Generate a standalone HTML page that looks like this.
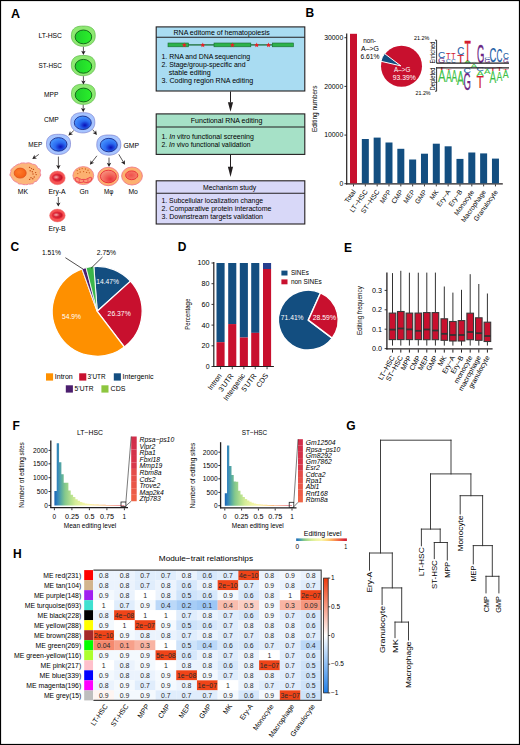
<!DOCTYPE html>
<html><head><meta charset="utf-8"><style>
html,body{margin:0;padding:0;background:#fff;}
svg{display:block;font-family:"Liberation Sans", sans-serif;}
</style></head><body>
<svg width="520" height="745" viewBox="0 0 520 745">
<defs>
<radialGradient id="gBlue" cx="0.62" cy="0.68" r="0.7">
<stop offset="0" stop-color="#0a10b8"/><stop offset="0.45" stop-color="#2a6af0"/><stop offset="1" stop-color="#4a98ff"/></radialGradient>
<linearGradient id="gGreen" x1="0" y1="0" x2="1" y2="0"><stop offset="0" stop-color="#1fcf2c"/><stop offset="1" stop-color="#2af02a"/></linearGradient>
<radialGradient id="gMphi" cx="0.62" cy="0.7" r="0.75"><stop offset="0" stop-color="#e8343c"/><stop offset="0.5" stop-color="#f26a5e"/><stop offset="1" stop-color="#f79582"/></radialGradient>
<radialGradient id="gMo" cx="0.45" cy="0.5" r="0.7"><stop offset="0" stop-color="#f0504c"/><stop offset="1" stop-color="#f58a70"/></radialGradient>
<radialGradient id="gEry" cx="0.35" cy="0.45" r="0.7"><stop offset="0" stop-color="#f4b0b0"/><stop offset="0.5" stop-color="#d82838"/><stop offset="1" stop-color="#b81020"/></radialGradient>
<radialGradient id="gMKn" cx="0.4" cy="0.4" r="0.7"><stop offset="0" stop-color="#ff7a2a"/><stop offset="1" stop-color="#f25a10"/></radialGradient>
<linearGradient id="gSpec" x1="0" y1="0" x2="1" y2="0">
<stop offset="0" stop-color="#2b7bba"/><stop offset="0.25" stop-color="#abdda4"/><stop offset="0.5" stop-color="#ffffbf"/><stop offset="0.75" stop-color="#fdae61"/><stop offset="1" stop-color="#d7191c"/></linearGradient>
<linearGradient id="gHeat" x1="0" y1="0" x2="0" y2="1">
<stop offset="0" stop-color="#ee3a0c"/><stop offset="0.5" stop-color="#ffffff"/><stop offset="1" stop-color="#1f7ee8"/></linearGradient>
</defs>
<rect x="0" y="0" width="520" height="745" fill="#fff"/>
<text x="11.00" y="17.70" font-size="12.5" fill="#000" font-weight="bold">A</text>
<text x="38.50" y="37.85" font-size="7.0" textLength="23.50" lengthAdjust="spacingAndGlyphs">LT-HSC</text>
<text x="38.50" y="67.85" font-size="7.0" textLength="23.50" lengthAdjust="spacingAndGlyphs">ST-HSC</text>
<text x="44.00" y="96.75" font-size="7.0" textLength="14.30" lengthAdjust="spacingAndGlyphs">MPP</text>
<text x="44.00" y="122.15" font-size="7.0" textLength="14.80" lengthAdjust="spacingAndGlyphs">CMP</text>
<text x="28.30" y="147.05" font-size="7.0" textLength="13.90" lengthAdjust="spacingAndGlyphs">MEP</text>
<text x="123.40" y="147.95" font-size="7.0" textLength="15.60" lengthAdjust="spacingAndGlyphs">GMP</text>
<text x="17.80" y="193.85" font-size="7.0" textLength="10.20" lengthAdjust="spacingAndGlyphs">MK</text>
<text x="48.50" y="193.85" font-size="7.0" textLength="17.20" lengthAdjust="spacingAndGlyphs">Ery-A</text>
<text x="79.40" y="193.85" font-size="7.0" textLength="9.10" lengthAdjust="spacingAndGlyphs">Gn</text>
<text x="103.90" y="193.85" font-size="7.0" textLength="9.40" lengthAdjust="spacingAndGlyphs">Mφ</text>
<text x="128.40" y="193.85" font-size="7.0" textLength="9.40" lengthAdjust="spacingAndGlyphs">Mo</text>
<text x="48.50" y="231.05" font-size="7.0" textLength="17.20" lengthAdjust="spacingAndGlyphs">Ery-B</text>
<polygon points="95.20,36.20 95.16,37.19 95.03,38.11 94.81,38.99 94.52,39.84 94.14,40.65 93.68,41.42 93.14,42.15 92.53,42.83 91.85,43.46 91.11,44.04 90.31,44.55 89.45,45.01 88.54,45.40 87.58,45.72 86.58,45.97 85.55,46.15 84.46,46.26 83.30,46.30 82.14,46.26 81.05,46.15 80.02,45.97 79.02,45.72 78.06,45.40 77.15,45.01 76.29,44.55 75.49,44.04 74.75,43.46 74.07,42.83 73.46,42.15 72.92,41.42 72.46,40.65 72.08,39.84 71.79,38.99 71.57,38.11 71.44,37.19 71.40,36.20 71.43,34.65 71.54,33.57 71.71,32.63 71.96,31.78 72.27,30.99 72.65,30.27 73.09,29.61 73.61,29.01 74.18,28.46 74.83,27.97 75.54,27.54 76.32,27.16 77.16,26.84 78.09,26.57 79.09,26.37 80.20,26.22 81.48,26.13 83.30,26.10 85.12,26.13 86.40,26.22 87.51,26.37 88.51,26.57 89.44,26.84 90.28,27.16 91.06,27.54 91.77,27.97 92.42,28.46 92.99,29.01 93.51,29.61 93.95,30.27 94.33,30.99 94.64,31.78 94.89,32.63 95.06,33.57 95.17,34.65" fill="#8ee872" stroke="#58b444" stroke-width="0.7" stroke-linejoin="round"/>
<ellipse cx="83.40" cy="36.90" rx="8.30" ry="6.90" fill="url(#gGreen)" stroke="#0f5f14" stroke-width="0.9"/>
<polygon points="95.20,65.60 95.16,66.59 95.03,67.51 94.81,68.39 94.52,69.24 94.14,70.05 93.68,70.82 93.14,71.55 92.53,72.23 91.85,72.86 91.11,73.44 90.31,73.95 89.45,74.41 88.54,74.80 87.58,75.12 86.58,75.37 85.55,75.55 84.46,75.66 83.30,75.70 82.14,75.66 81.05,75.55 80.02,75.37 79.02,75.12 78.06,74.80 77.15,74.41 76.29,73.95 75.49,73.44 74.75,72.86 74.07,72.23 73.46,71.55 72.92,70.82 72.46,70.05 72.08,69.24 71.79,68.39 71.57,67.51 71.44,66.59 71.40,65.60 71.43,64.05 71.54,62.97 71.71,62.03 71.96,61.18 72.27,60.39 72.65,59.67 73.09,59.01 73.61,58.41 74.18,57.86 74.83,57.37 75.54,56.94 76.32,56.56 77.16,56.24 78.09,55.97 79.09,55.77 80.20,55.62 81.48,55.53 83.30,55.50 85.12,55.53 86.40,55.62 87.51,55.77 88.51,55.97 89.44,56.24 90.28,56.56 91.06,56.94 91.77,57.37 92.42,57.86 92.99,58.41 93.51,59.01 93.95,59.67 94.33,60.39 94.64,61.18 94.89,62.03 95.06,62.97 95.17,64.05" fill="#8ee872" stroke="#58b444" stroke-width="0.7" stroke-linejoin="round"/>
<ellipse cx="83.40" cy="66.30" rx="8.30" ry="6.90" fill="url(#gGreen)" stroke="#0f5f14" stroke-width="0.9"/>
<polygon points="95.30,94.30 95.26,95.29 95.13,96.21 94.91,97.09 94.62,97.94 94.24,98.75 93.78,99.52 93.24,100.25 92.63,100.93 91.95,101.56 91.21,102.14 90.41,102.65 89.55,103.11 88.64,103.50 87.68,103.82 86.68,104.07 85.65,104.25 84.56,104.36 83.40,104.40 82.24,104.36 81.15,104.25 80.12,104.07 79.12,103.82 78.16,103.50 77.25,103.11 76.39,102.65 75.59,102.14 74.85,101.56 74.17,100.93 73.56,100.25 73.02,99.52 72.56,98.75 72.18,97.94 71.89,97.09 71.67,96.21 71.54,95.29 71.50,94.30 71.53,92.75 71.64,91.67 71.81,90.73 72.06,89.88 72.37,89.09 72.75,88.37 73.19,87.71 73.71,87.11 74.28,86.56 74.93,86.07 75.64,85.64 76.42,85.26 77.26,84.94 78.19,84.67 79.19,84.47 80.30,84.32 81.58,84.23 83.40,84.20 85.22,84.23 86.50,84.32 87.61,84.47 88.61,84.67 89.54,84.94 90.38,85.26 91.16,85.64 91.87,86.07 92.52,86.56 93.09,87.11 93.61,87.71 94.05,88.37 94.43,89.09 94.74,89.88 94.99,90.73 95.16,91.67 95.27,92.75" fill="#8ee872" stroke="#58b444" stroke-width="0.7" stroke-linejoin="round"/>
<ellipse cx="83.50" cy="95.00" rx="8.30" ry="6.90" fill="url(#gGreen)" stroke="#0f5f14" stroke-width="0.9"/>
<polygon points="94.80,122.80 94.76,123.79 94.63,124.71 94.41,125.59 94.11,126.44 93.73,127.25 93.26,128.02 92.72,128.75 92.11,129.43 91.43,130.06 90.68,130.64 89.87,131.15 89.00,131.61 88.08,132.00 87.12,132.32 86.11,132.57 85.06,132.75 83.97,132.86 82.80,132.90 81.63,132.86 80.54,132.75 79.49,132.57 78.48,132.32 77.52,132.00 76.60,131.61 75.73,131.15 74.92,130.64 74.17,130.06 73.49,129.43 72.88,128.75 72.34,128.02 71.87,127.25 71.49,126.44 71.19,125.59 70.97,124.71 70.84,123.79 70.80,122.80 70.84,121.25 70.94,120.17 71.12,119.23 71.36,118.38 71.67,117.59 72.06,116.87 72.51,116.21 73.02,115.61 73.61,115.06 74.26,114.57 74.98,114.14 75.76,113.76 76.61,113.44 77.54,113.17 78.56,112.97 79.68,112.82 80.96,112.73 82.80,112.70 84.64,112.73 85.92,112.82 87.04,112.97 88.06,113.17 88.99,113.44 89.84,113.76 90.62,114.14 91.34,114.57 91.99,115.06 92.58,115.61 93.09,116.21 93.54,116.87 93.93,117.59 94.24,118.38 94.48,119.23 94.66,120.17 94.76,121.25" fill="#a6c4ff" stroke="#7b7fcf" stroke-width="0.7" stroke-linejoin="round"/>
<ellipse cx="82.80" cy="122.80" rx="8.50" ry="6.75" fill="url(#gBlue)" stroke="#1a2a8a" stroke-width="0.9"/>
<polygon points="70.50,144.40 70.46,145.39 70.33,146.31 70.11,147.19 69.81,148.04 69.43,148.85 68.96,149.62 68.42,150.35 67.81,151.03 67.13,151.66 66.38,152.24 65.57,152.75 64.70,153.21 63.78,153.60 62.82,153.92 61.81,154.17 60.76,154.35 59.67,154.46 58.50,154.50 57.33,154.46 56.24,154.35 55.19,154.17 54.18,153.92 53.22,153.60 52.30,153.21 51.43,152.75 50.62,152.24 49.87,151.66 49.19,151.03 48.58,150.35 48.04,149.62 47.57,148.85 47.19,148.04 46.89,147.19 46.67,146.31 46.54,145.39 46.50,144.40 46.54,142.85 46.64,141.77 46.82,140.83 47.06,139.98 47.37,139.19 47.76,138.47 48.21,137.81 48.72,137.21 49.31,136.66 49.96,136.17 50.68,135.74 51.46,135.36 52.31,135.04 53.24,134.77 54.26,134.57 55.38,134.42 56.66,134.33 58.50,134.30 60.34,134.33 61.62,134.42 62.74,134.57 63.76,134.77 64.69,135.04 65.54,135.36 66.32,135.74 67.04,136.17 67.69,136.66 68.28,137.21 68.79,137.81 69.24,138.47 69.63,139.19 69.94,139.98 70.18,140.83 70.36,141.77 70.46,142.85" fill="#a6c4ff" stroke="#7b7fcf" stroke-width="0.7" stroke-linejoin="round"/>
<ellipse cx="58.50" cy="144.40" rx="8.50" ry="6.75" fill="url(#gBlue)" stroke="#1a2a8a" stroke-width="0.9"/>
<polygon points="120.80,145.10 120.76,146.09 120.63,147.01 120.41,147.89 120.11,148.74 119.73,149.55 119.26,150.32 118.72,151.05 118.11,151.73 117.43,152.36 116.68,152.94 115.87,153.45 115.00,153.91 114.08,154.30 113.12,154.62 112.11,154.87 111.06,155.05 109.97,155.16 108.80,155.20 107.63,155.16 106.54,155.05 105.49,154.87 104.48,154.62 103.52,154.30 102.60,153.91 101.73,153.45 100.92,152.94 100.17,152.36 99.49,151.73 98.88,151.05 98.34,150.32 97.87,149.55 97.49,148.74 97.19,147.89 96.97,147.01 96.84,146.09 96.80,145.10 96.84,143.55 96.94,142.47 97.12,141.53 97.36,140.68 97.67,139.89 98.06,139.17 98.51,138.51 99.02,137.91 99.61,137.36 100.26,136.87 100.98,136.44 101.76,136.06 102.61,135.74 103.54,135.47 104.56,135.27 105.68,135.12 106.96,135.03 108.80,135.00 110.64,135.03 111.92,135.12 113.04,135.27 114.06,135.47 114.99,135.74 115.84,136.06 116.62,136.44 117.34,136.87 117.99,137.36 118.58,137.91 119.09,138.51 119.54,139.17 119.93,139.89 120.24,140.68 120.48,141.53 120.66,142.47 120.76,143.55" fill="#a6c4ff" stroke="#7b7fcf" stroke-width="0.7" stroke-linejoin="round"/>
<ellipse cx="108.80" cy="145.10" rx="8.50" ry="6.75" fill="url(#gBlue)" stroke="#1a2a8a" stroke-width="0.9"/>
<line x1="83.40" y1="46.80" x2="83.40" y2="52.10" stroke="#231f20" stroke-width="0.75"/>
<polygon points="83.40,55.00 81.20,50.80 83.40,51.80 85.60,50.80" fill="#231f20"/>
<line x1="83.40" y1="76.20" x2="83.40" y2="81.70" stroke="#231f20" stroke-width="0.75"/>
<polygon points="83.40,84.60 81.20,80.40 83.40,81.40 85.60,80.40" fill="#231f20"/>
<line x1="83.20" y1="104.80" x2="83.20" y2="109.30" stroke="#231f20" stroke-width="0.75"/>
<polygon points="83.20,112.20 81.00,108.00 83.20,109.00 85.40,108.00" fill="#231f20"/>
<line x1="73.80" y1="130.60" x2="70.55" y2="133.55" stroke="#231f20" stroke-width="0.75"/>
<polygon points="68.40,135.50 70.03,131.05 70.77,133.35 72.99,134.31" fill="#231f20"/>
<line x1="92.70" y1="129.60" x2="95.12" y2="132.71" stroke="#231f20" stroke-width="0.75"/>
<polygon points="96.90,135.00 92.58,133.04 94.94,132.47 96.06,130.33" fill="#231f20"/>
<line x1="38.80" y1="154.40" x2="34.65" y2="157.40" stroke="#231f20" stroke-width="0.75"/>
<polygon points="32.30,159.10 34.41,154.86 34.89,157.22 36.99,158.42" fill="#231f20"/>
<line x1="58.40" y1="156.60" x2="58.40" y2="166.30" stroke="#231f20" stroke-width="0.75"/>
<polygon points="58.40,169.20 56.20,165.00 58.40,166.00 60.60,165.00" fill="#231f20"/>
<line x1="96.90" y1="155.80" x2="91.68" y2="162.51" stroke="#231f20" stroke-width="0.75"/>
<polygon points="89.90,164.80 90.74,160.13 91.86,162.27 94.22,162.84" fill="#231f20"/>
<line x1="109.00" y1="157.60" x2="109.00" y2="164.10" stroke="#231f20" stroke-width="0.75"/>
<polygon points="109.00,167.00 106.80,162.80 109.00,163.80 111.20,162.80" fill="#231f20"/>
<line x1="118.80" y1="154.40" x2="123.52" y2="162.31" stroke="#231f20" stroke-width="0.75"/>
<polygon points="125.00,164.80 120.96,162.32 123.36,162.05 124.74,160.07" fill="#231f20"/>
<line x1="58.30" y1="197.00" x2="58.30" y2="203.70" stroke="#231f20" stroke-width="0.75"/>
<polygon points="58.30,206.60 56.10,202.40 58.30,203.40 60.50,202.40" fill="#231f20"/>
<path d="M40.31,173.70 L40.84,174.94 L40.21,176.10 L39.53,177.20 L38.96,178.30 L38.16,179.31 L37.36,180.31 L36.58,181.35 L34.85,181.67 L33.80,182.46 L33.07,183.75 L31.41,183.88 L29.93,184.15 L28.38,184.09 L27.00,184.66 L25.50,184.61 L24.00,184.66 L22.55,184.35 L21.16,183.95 L19.50,184.05 L18.08,183.56 L17.29,182.37 L15.85,181.92 L14.59,181.24 L13.44,180.42 L12.86,179.30 L11.85,178.36 L11.58,177.17 L10.49,176.15 L9.87,174.96 L10.27,173.70 L10.54,172.49 L11.06,171.35 L10.75,170.02 L11.69,168.98 L12.49,167.94 L13.59,167.06 L14.85,166.34 L15.73,165.38 L17.08,164.81 L18.26,164.09 L19.80,163.88 L21.00,163.07 L22.51,162.93 L24.03,162.94 L25.50,163.19 L26.96,163.05 L28.54,162.74 L29.99,163.10 L31.36,163.60 L32.61,164.25 L34.29,164.42 L35.69,165.02 L36.73,165.94 L37.26,167.14 L37.92,168.20 L39.64,168.87 L40.39,169.99 L40.37,171.27 L40.15,172.52Z" fill="#fcb67a" stroke="#ee7f96" stroke-width="0.9" stroke-linejoin="round"/>
<ellipse cx="20.20" cy="173.10" rx="6.00" ry="5.00" fill="url(#gMKn)" stroke="#e0501a" stroke-width="0.8"/>
<ellipse cx="29.60" cy="167.40" rx="0.70" ry="0.70" fill="#c44a14"/>
<ellipse cx="31.50" cy="168.60" rx="0.70" ry="0.70" fill="#c44a14"/>
<ellipse cx="33.40" cy="169.40" rx="0.70" ry="0.70" fill="#c44a14"/>
<ellipse cx="30.20" cy="170.80" rx="0.70" ry="0.70" fill="#c44a14"/>
<ellipse cx="32.30" cy="171.80" rx="0.70" ry="0.70" fill="#c44a14"/>
<ellipse cx="35.60" cy="172.60" rx="0.70" ry="0.70" fill="#c44a14"/>
<ellipse cx="36.20" cy="174.60" rx="0.70" ry="0.70" fill="#c44a14"/>
<ellipse cx="33.00" cy="174.00" rx="0.70" ry="0.70" fill="#c44a14"/>
<ellipse cx="31.00" cy="177.80" rx="0.70" ry="0.70" fill="#c44a14"/>
<ellipse cx="32.80" cy="178.80" rx="0.70" ry="0.70" fill="#c44a14"/>
<ellipse cx="29.60" cy="179.40" rx="0.70" ry="0.70" fill="#c44a14"/>
<ellipse cx="34.20" cy="177.00" rx="0.70" ry="0.70" fill="#c44a14"/>
<ellipse cx="57.40" cy="177.90" rx="7.80" ry="6.80" fill="#f45454" stroke="#f07070" stroke-width="0.5"/>
<ellipse cx="57.50" cy="177.60" rx="5.60" ry="4.20" fill="#e82a3a"/>
<ellipse cx="57.60" cy="177.50" rx="4.60" ry="3.10" fill="url(#gEry)"/>
<ellipse cx="57.40" cy="215.50" rx="7.80" ry="6.40" fill="#f45454" stroke="#f07070" stroke-width="0.5"/>
<ellipse cx="57.50" cy="215.20" rx="5.60" ry="3.80" fill="#e82a3a"/>
<ellipse cx="57.60" cy="215.10" rx="4.60" ry="2.70" fill="url(#gEry)"/>
<ellipse cx="83.30" cy="175.60" rx="10.40" ry="9.00" fill="#fcb070" stroke="#ef7a8a" stroke-width="0.8"/>
<path d="M74.8,178.4 Q76.8,176.4 79.4,178.6 Q81.6,180.0 83.6,179.4 Q85.8,180.0 88.0,178.4 Q90.4,176.2 92.0,178.2 Q91.6,181.8 88.2,182.4 Q85.8,182.8 83.6,182.0 Q81.2,182.8 79.0,182.4 Q75.4,182.2 74.8,178.4Z" fill="#fb9a78" stroke="#ea2d44" stroke-width="0.8"/>
<path d="M79.2,178.8 Q79.6,181 79.0,182.4 M88.0,178.6 Q87.6,181 88.2,182.4 M83.6,179.4 L83.6,182.0" fill="none" stroke="#ea2d44" stroke-width="0.6"/>
<ellipse cx="77.20" cy="170.60" rx="0.65" ry="0.65" fill="#d0601e"/>
<ellipse cx="79.60" cy="169.20" rx="0.65" ry="0.65" fill="#d0601e"/>
<ellipse cx="82.20" cy="168.60" rx="0.65" ry="0.65" fill="#d0601e"/>
<ellipse cx="85.40" cy="169.00" rx="0.65" ry="0.65" fill="#d0601e"/>
<ellipse cx="88.00" cy="170.20" rx="0.65" ry="0.65" fill="#d0601e"/>
<ellipse cx="80.20" cy="172.00" rx="0.65" ry="0.65" fill="#d0601e"/>
<ellipse cx="83.60" cy="171.60" rx="0.65" ry="0.65" fill="#d0601e"/>
<ellipse cx="86.60" cy="172.40" rx="0.65" ry="0.65" fill="#d0601e"/>
<ellipse cx="89.40" cy="172.80" rx="0.65" ry="0.65" fill="#d0601e"/>
<ellipse cx="77.80" cy="173.60" rx="0.65" ry="0.65" fill="#d0601e"/>
<ellipse cx="108.20" cy="176.50" rx="10.50" ry="9.20" fill="#fcb070" stroke="#ef6f80" stroke-width="0.8"/>
<ellipse cx="108.40" cy="176.50" rx="8.00" ry="6.30" fill="url(#gMphi)" stroke="#e8202e" stroke-width="0.8"/>
<ellipse cx="132.00" cy="176.00" rx="10.40" ry="9.00" fill="#fcb070" stroke="#ef6f80" stroke-width="0.8"/>
<ellipse cx="131.70" cy="175.30" rx="6.10" ry="4.40" fill="url(#gMo)" stroke="#e8202e" stroke-width="0.8"/>
<rect x="156.20" y="26.90" width="148.60" height="64.10" fill="#a9dcf2" stroke="#231f20" stroke-width="1.1"/>
<line x1="156.20" y1="37.30" x2="304.80" y2="37.30" stroke="#231f20" stroke-width="1.1"/>
<rect x="156.20" y="113.90" width="148.60" height="40.50" fill="#a6e1c7" stroke="#231f20" stroke-width="1.1"/>
<line x1="156.20" y1="127.00" x2="304.80" y2="127.00" stroke="#231f20" stroke-width="1.1"/>
<rect x="156.20" y="180.80" width="148.60" height="43.20" fill="#d8d8f8" stroke="#231f20" stroke-width="1.1"/>
<line x1="156.20" y1="193.30" x2="304.80" y2="193.30" stroke="#231f20" stroke-width="1.1"/>
<line x1="230.50" y1="91.50" x2="230.50" y2="102.50" stroke="#231f20" stroke-width="1.0"/>
<polygon points="230.50,111.80 227.90,102.20 230.50,102.20 233.10,102.20" fill="#231f20"/>
<line x1="230.50" y1="154.90" x2="230.50" y2="167.00" stroke="#231f20" stroke-width="1.0"/>
<polygon points="230.50,176.90 227.90,166.70 230.50,166.70 233.10,166.70" fill="#231f20"/>
<text x="173.50" y="34.68" font-size="6.8" textLength="96.30" lengthAdjust="spacingAndGlyphs">RNA editome of hematopoiesis</text>
<text x="161.50" y="59.18" font-size="6.8" textLength="88.60" lengthAdjust="spacingAndGlyphs">1. RNA and DNA sequencing</text>
<text x="161.50" y="66.98" font-size="6.8" textLength="84.00" lengthAdjust="spacingAndGlyphs">2. Stage/group-specific and</text>
<text x="168.80" y="74.88" font-size="6.8" textLength="42.00" lengthAdjust="spacingAndGlyphs">stable editing</text>
<text x="161.50" y="83.18" font-size="6.8" textLength="91.60" lengthAdjust="spacingAndGlyphs">3. Coding region RNA editing</text>
<text x="190.80" y="123.18" font-size="6.8" textLength="71.50" lengthAdjust="spacingAndGlyphs">Functional RNA editing</text>
<text x="161.50" y="139.28" font-size="6.8" textLength="92.30" lengthAdjust="spacingAndGlyphs">1. <tspan font-style="italic">In</tspan> vitro functional screening</text>
<text x="161.50" y="147.38" font-size="6.8" textLength="89.00" lengthAdjust="spacingAndGlyphs">2. <tspan font-style="italic">In</tspan> vivo functional validation</text>
<text x="203.00" y="189.98" font-size="6.8" textLength="53.10" lengthAdjust="spacingAndGlyphs">Mechanism study</text>
<text x="161.50" y="202.68" font-size="6.8" textLength="101.50" lengthAdjust="spacingAndGlyphs">1. Subcellular localization change</text>
<text x="161.50" y="210.58" font-size="6.8" textLength="110.00" lengthAdjust="spacingAndGlyphs">2. Comparative protein interactome</text>
<text x="161.50" y="218.88" font-size="6.8" textLength="101.50" lengthAdjust="spacingAndGlyphs">3. Downstream targets validation</text>
<line x1="188.00" y1="44.90" x2="214.50" y2="44.90" stroke="#1b6e34" stroke-width="1.3"/>
<line x1="250.50" y1="44.90" x2="272.60" y2="44.90" stroke="#1b6e34" stroke-width="1.3"/>
<rect x="168.00" y="43.00" width="20.40" height="3.80" fill="#2db24b" stroke="#17692f" stroke-width="0.6"/>
<rect x="214.00" y="43.00" width="36.80" height="3.80" fill="#2db24b" stroke="#17692f" stroke-width="0.6"/>
<rect x="272.30" y="43.00" width="21.10" height="3.80" fill="#2db24b" stroke="#17692f" stroke-width="0.6"/>
<polygon points="184.30,42.50 184.99,44.15 186.77,44.30 185.41,45.46 185.83,47.20 184.30,46.27 182.77,47.20 183.19,45.46 181.83,44.30 183.61,44.15" fill="#ee1c25"/>
<polygon points="202.80,42.50 203.49,44.15 205.27,44.30 203.91,45.46 204.33,47.20 202.80,46.27 201.27,47.20 201.69,45.46 200.33,44.30 202.11,44.15" fill="#ee1c25"/>
<polygon points="232.40,42.50 233.09,44.15 234.87,44.30 233.51,45.46 233.93,47.20 232.40,46.27 230.87,47.20 231.29,45.46 229.93,44.30 231.71,44.15" fill="#ee1c25"/>
<polygon points="256.70,42.50 257.39,44.15 259.17,44.30 257.81,45.46 258.23,47.20 256.70,46.27 255.17,47.20 255.59,45.46 254.23,44.30 256.01,44.15" fill="#ee1c25"/>
<polygon points="268.50,42.50 269.19,44.15 270.97,44.30 269.61,45.46 270.03,47.20 268.50,46.27 266.97,47.20 267.39,45.46 266.03,44.30 267.81,44.15" fill="#ee1c25"/>
<text x="305.60" y="17.40" font-size="12.0" fill="#000" font-weight="bold">B</text>
<line x1="346.70" y1="33.60" x2="346.70" y2="184.40" stroke="#231f20" stroke-width="1.2"/>
<line x1="346.10" y1="183.90" x2="502.80" y2="183.90" stroke="#231f20" stroke-width="1.2"/>
<line x1="344.40" y1="37.70" x2="346.70" y2="37.70" stroke="#231f20" stroke-width="0.9"/>
<text x="343.20" y="40.08" font-size="6.8" text-anchor="end" textLength="19.00" lengthAdjust="spacingAndGlyphs">30000</text>
<line x1="344.40" y1="86.40" x2="346.70" y2="86.40" stroke="#231f20" stroke-width="0.9"/>
<text x="343.20" y="88.78" font-size="6.8" text-anchor="end" textLength="19.00" lengthAdjust="spacingAndGlyphs">20000</text>
<line x1="344.40" y1="135.10" x2="346.70" y2="135.10" stroke="#231f20" stroke-width="0.9"/>
<text x="343.20" y="137.48" font-size="6.8" text-anchor="end" textLength="19.00" lengthAdjust="spacingAndGlyphs">10000</text>
<line x1="344.40" y1="183.70" x2="346.70" y2="183.70" stroke="#231f20" stroke-width="0.9"/>
<text x="343.20" y="186.08" font-size="6.8" text-anchor="end" textLength="3.80" lengthAdjust="spacingAndGlyphs">0</text>
<text transform="translate(314.20 108.80) rotate(-90)" font-size="6.8" text-anchor="middle" dominant-baseline="central" textLength="46.50" lengthAdjust="spacingAndGlyphs">Editing numbers</text>
<rect x="350.00" y="33.80" width="7.00" height="149.50" fill="#c8102e"/>
<line x1="353.50" y1="184.40" x2="353.50" y2="186.40" stroke="#231f20" stroke-width="0.9"/>
<text transform="translate(354.10 190.40) rotate(-55)" font-size="6.8" text-anchor="end" dominant-baseline="central">Total</text>
<rect x="361.83" y="139.00" width="7.00" height="44.30" fill="#134e80"/>
<line x1="365.33" y1="184.40" x2="365.33" y2="186.40" stroke="#231f20" stroke-width="0.9"/>
<text transform="translate(365.93 190.40) rotate(-55)" font-size="6.8" text-anchor="end" dominant-baseline="central">LT−HSC</text>
<rect x="373.66" y="137.60" width="7.00" height="45.70" fill="#134e80"/>
<line x1="377.16" y1="184.40" x2="377.16" y2="186.40" stroke="#231f20" stroke-width="0.9"/>
<text transform="translate(377.76 190.40) rotate(-55)" font-size="6.8" text-anchor="end" dominant-baseline="central">ST−HSC</text>
<rect x="385.49" y="142.50" width="7.00" height="40.80" fill="#134e80"/>
<line x1="388.99" y1="184.40" x2="388.99" y2="186.40" stroke="#231f20" stroke-width="0.9"/>
<text transform="translate(389.59 190.40) rotate(-55)" font-size="6.8" text-anchor="end" dominant-baseline="central">MPP</text>
<rect x="397.32" y="148.80" width="7.00" height="34.50" fill="#134e80"/>
<line x1="400.82" y1="184.40" x2="400.82" y2="186.40" stroke="#231f20" stroke-width="0.9"/>
<text transform="translate(401.42 190.40) rotate(-55)" font-size="6.8" text-anchor="end" dominant-baseline="central">CMP</text>
<rect x="409.15" y="159.50" width="7.00" height="23.80" fill="#134e80"/>
<line x1="412.65" y1="184.40" x2="412.65" y2="186.40" stroke="#231f20" stroke-width="0.9"/>
<text transform="translate(413.25 190.40) rotate(-55)" font-size="6.8" text-anchor="end" dominant-baseline="central">MEP</text>
<rect x="420.98" y="153.70" width="7.00" height="29.60" fill="#134e80"/>
<line x1="424.48" y1="184.40" x2="424.48" y2="186.40" stroke="#231f20" stroke-width="0.9"/>
<text transform="translate(425.08 190.40) rotate(-55)" font-size="6.8" text-anchor="end" dominant-baseline="central">GMP</text>
<rect x="432.81" y="143.70" width="7.00" height="39.60" fill="#134e80"/>
<line x1="436.31" y1="184.40" x2="436.31" y2="186.40" stroke="#231f20" stroke-width="0.9"/>
<text transform="translate(436.91 190.40) rotate(-55)" font-size="6.8" text-anchor="end" dominant-baseline="central">MK</text>
<rect x="444.64" y="146.30" width="7.00" height="37.00" fill="#134e80"/>
<line x1="448.14" y1="184.40" x2="448.14" y2="186.40" stroke="#231f20" stroke-width="0.9"/>
<text transform="translate(448.74 190.40) rotate(-55)" font-size="6.8" text-anchor="end" dominant-baseline="central">Ery−A</text>
<rect x="456.47" y="158.90" width="7.00" height="24.40" fill="#134e80"/>
<line x1="459.97" y1="184.40" x2="459.97" y2="186.40" stroke="#231f20" stroke-width="0.9"/>
<text transform="translate(460.57 190.40) rotate(-55)" font-size="6.8" text-anchor="end" dominant-baseline="central">Ery−B</text>
<rect x="468.30" y="152.50" width="7.00" height="30.80" fill="#134e80"/>
<line x1="471.80" y1="184.40" x2="471.80" y2="186.40" stroke="#231f20" stroke-width="0.9"/>
<text transform="translate(472.40 190.40) rotate(-55)" font-size="6.8" text-anchor="end" dominant-baseline="central">Monocyte</text>
<rect x="480.13" y="153.40" width="7.00" height="29.90" fill="#134e80"/>
<line x1="483.63" y1="184.40" x2="483.63" y2="186.40" stroke="#231f20" stroke-width="0.9"/>
<text transform="translate(484.23 190.40) rotate(-55)" font-size="6.8" text-anchor="end" dominant-baseline="central">Macrophage</text>
<rect x="491.96" y="158.60" width="7.00" height="24.70" fill="#134e80"/>
<line x1="495.46" y1="184.40" x2="495.46" y2="186.40" stroke="#231f20" stroke-width="0.9"/>
<text transform="translate(496.06 190.40) rotate(-55)" font-size="6.8" text-anchor="end" dominant-baseline="central">Granulocyte</text>
<circle cx="401.5" cy="66.2" r="20.5" fill="#c8102e"/>
<path d="M400.90,65.90 L380.93,61.29 A20.50,20.50 0 0 1 384.53,53.56 Z" fill="#134e80" stroke="#fff" stroke-width="1.0" stroke-linejoin="round"/>
<text x="369.60" y="42.64" font-size="6.4" text-anchor="middle">non-</text>
<text x="370.00" y="51.14" font-size="6.4" text-anchor="middle" textLength="18.00" lengthAdjust="spacingAndGlyphs">A–&gt;G</text>
<text x="370.00" y="59.34" font-size="6.4" text-anchor="middle" textLength="19.00" lengthAdjust="spacingAndGlyphs">6.61%</text>
<text x="402.20" y="72.18" font-size="6.8" text-anchor="middle" fill="#fff" textLength="16.40" lengthAdjust="spacingAndGlyphs">A–&gt;G</text>
<text x="404.30" y="79.78" font-size="6.8" text-anchor="middle" fill="#fff" textLength="22.90" lengthAdjust="spacingAndGlyphs">93.39%</text>
<text x="429.20" y="40.36" font-size="5.9" text-anchor="end" textLength="15.30" lengthAdjust="spacingAndGlyphs">21.2%</text>
<text x="430.60" y="95.36" font-size="5.9" text-anchor="end" textLength="15.10" lengthAdjust="spacingAndGlyphs">21.2%</text>
<text transform="translate(432.00 52.60) rotate(-90)" font-size="6.3" text-anchor="middle" dominant-baseline="central" textLength="21.60" lengthAdjust="spacingAndGlyphs">Enriched</text>
<text transform="translate(432.00 79.00) rotate(-90)" font-size="6.3" text-anchor="middle" dominant-baseline="central" textLength="22.60" lengthAdjust="spacingAndGlyphs">Depleted</text>
<line x1="436.60" y1="40.20" x2="436.60" y2="63.20" stroke="#231f20" stroke-width="0.9"/>
<line x1="436.60" y1="67.00" x2="436.60" y2="91.20" stroke="#231f20" stroke-width="0.9"/>
<line x1="435.00" y1="40.20" x2="436.60" y2="40.20" stroke="#231f20" stroke-width="0.9"/>
<line x1="435.00" y1="91.20" x2="436.60" y2="91.20" stroke="#231f20" stroke-width="0.9"/>
<text transform="translate(438.00 62.70) scale(0.925 0.694)" font-size="10.0" fill="#6a2584" stroke="#6a2584" stroke-width="0.12">G</text>
<text transform="translate(438.00 57.70) scale(1.000 0.958)" font-size="10.0" fill="#1c5ea6" stroke="#1c5ea6" stroke-width="0.12">C</text>
<text transform="translate(446.00 62.70) scale(0.649 0.583)" font-size="10.0" fill="#1c5ea6" stroke="#1c5ea6" stroke-width="0.12">C</text>
<text transform="translate(446.00 58.50) scale(0.750 0.972)" font-size="10.0" fill="#d21c2e" stroke="#d21c2e" stroke-width="0.12">T</text>
<text transform="translate(451.30 62.80) scale(0.608 0.500)" font-size="10.0" fill="#1c5ea6" stroke="#1c5ea6" stroke-width="0.12">C</text>
<text transform="translate(451.30 59.20) scale(0.703 0.861)" font-size="10.0" fill="#d21c2e" stroke="#d21c2e" stroke-width="0.12">T</text>
<text transform="translate(457.20 62.70) scale(1.125 1.125)" font-size="10.0" fill="#d21c2e" stroke="#d21c2e" stroke-width="0.12">T</text>
<text transform="translate(457.20 54.60) scale(0.973 1.167)" font-size="10.0" fill="#1c5ea6" stroke="#1c5ea6" stroke-width="0.12">C</text>
<text transform="translate(464.40 62.90) scale(0.943 0.264)" font-size="10.0" fill="#3cbf46" stroke="#3cbf46" stroke-width="0.12">A</text>
<text transform="translate(464.40 61.00) scale(1.031 2.889)" font-size="10.0" fill="#d21c2e" stroke="#d21c2e" stroke-width="0.12">T</text>
<text transform="translate(471.50 62.90) scale(0.786 0.153)" font-size="10.0" fill="#3cbf46" stroke="#3cbf46" stroke-width="0.12">A</text>
<text transform="translate(477.00 62.70) scale(0.950 2.569)" font-size="10.0" fill="#6a2584" stroke="#6a2584" stroke-width="0.12">G</text>
<text transform="translate(484.60 62.80) scale(0.750 0.458)" font-size="10.0" fill="#6a2584" stroke="#6a2584" stroke-width="0.12">G</text>
<text transform="translate(484.60 59.50) scale(0.811 0.264)" font-size="10.0" fill="#1c5ea6" stroke="#1c5ea6" stroke-width="0.12">C</text>
<text transform="translate(489.40 62.40) scale(0.946 1.972)" font-size="10.0" fill="#1c5ea6" stroke="#1c5ea6" stroke-width="0.12">C</text>
<text transform="translate(496.40 62.40) scale(0.811 1.833)" font-size="10.0" fill="#1c5ea6" stroke="#1c5ea6" stroke-width="0.12">C</text>
<text transform="translate(503.00 63.00) scale(0.750 0.500)" font-size="10.0" fill="#6a2584" stroke="#6a2584" stroke-width="0.12">G</text>
<text transform="translate(503.00 59.40) scale(0.811 0.889)" font-size="10.0" fill="#1c5ea6" stroke="#1c5ea6" stroke-width="0.12">C</text>
<text transform="translate(438.00 69.80) scale(1.250 0.264)" font-size="10.0" fill="#d21c2e" stroke="#d21c2e" stroke-width="0.12">T</text>
<text transform="translate(438.00 81.50) scale(1.143 1.597)" font-size="10.0" fill="#3cbf46" stroke="#3cbf46" stroke-width="0.12">A</text>
<text transform="translate(446.00 69.60) scale(0.938 0.236)" font-size="10.0" fill="#d21c2e" stroke="#d21c2e" stroke-width="0.12">T</text>
<text transform="translate(446.00 81.50) scale(0.857 1.597)" font-size="10.0" fill="#3cbf46" stroke="#3cbf46" stroke-width="0.12">A</text>
<text transform="translate(451.50 81.50) scale(0.857 1.597)" font-size="10.0" fill="#3cbf46" stroke="#3cbf46" stroke-width="0.12">A</text>
<text transform="translate(457.00 85.00) scale(1.057 1.972)" font-size="10.0" fill="#3cbf46" stroke="#3cbf46" stroke-width="0.12">A</text>
<text transform="translate(463.60 73.40) scale(1.027 0.750)" font-size="10.0" fill="#1c5ea6" stroke="#1c5ea6" stroke-width="0.12">C</text>
<text transform="translate(463.60 90.00) scale(0.950 2.306)" font-size="10.0" fill="#6a2584" stroke="#6a2584" stroke-width="0.12">G</text>
<text transform="translate(484.00 68.60) scale(0.919 0.083)" font-size="10.0" fill="#1c5ea6" stroke="#1c5ea6" stroke-width="0.12">C</text>
<text transform="translate(484.00 73.80) scale(0.971 0.722)" font-size="10.0" fill="#3cbf46" stroke="#3cbf46" stroke-width="0.12">A</text>
<text transform="translate(476.40 71.20) scale(1.027 0.444)" font-size="10.0" fill="#1c5ea6" stroke="#1c5ea6" stroke-width="0.12">C</text>
<text transform="translate(476.40 76.00) scale(1.086 0.639)" font-size="10.0" fill="#3cbf46" stroke="#3cbf46" stroke-width="0.12">A</text>
<text transform="translate(476.40 87.70) scale(1.188 1.625)" font-size="10.0" fill="#d21c2e" stroke="#d21c2e" stroke-width="0.12">T</text>
<text transform="translate(489.40 70.60) scale(1.094 0.361)" font-size="10.0" fill="#d21c2e" stroke="#d21c2e" stroke-width="0.12">T</text>
<text transform="translate(489.40 83.00) scale(1.000 1.694)" font-size="10.0" fill="#3cbf46" stroke="#3cbf46" stroke-width="0.12">A</text>
<text transform="translate(496.40 71.20) scale(0.969 0.444)" font-size="10.0" fill="#d21c2e" stroke="#d21c2e" stroke-width="0.12">T</text>
<text transform="translate(496.40 80.80) scale(0.886 1.292)" font-size="10.0" fill="#3cbf46" stroke="#3cbf46" stroke-width="0.12">A</text>
<text transform="translate(502.80 69.80) scale(0.969 0.250)" font-size="10.0" fill="#d21c2e" stroke="#d21c2e" stroke-width="0.12">T</text>
<text transform="translate(502.80 77.70) scale(0.886 1.069)" font-size="10.0" fill="#3cbf46" stroke="#3cbf46" stroke-width="0.12">A</text>
<text transform="translate(470.60 67.60) scale(1.029 0.556)" font-size="10.0" fill="#3cbf46" stroke="#3cbf46" stroke-width="0.12">A</text>
<line x1="436.60" y1="63.20" x2="509.00" y2="63.20" stroke="#231f20" stroke-width="1.2"/>
<line x1="436.60" y1="67.80" x2="509.00" y2="67.80" stroke="#231f20" stroke-width="1.2"/>
<text x="10.60" y="251.10" font-size="12.0" fill="#000" font-weight="bold">C</text>
<path d="M97.20,311.30 L93.75,266.48 A44.95,44.95 0 0 1 130.50,281.11 Z" fill="#134e80" stroke="#fff" stroke-width="1.3" stroke-linejoin="round"/>
<path d="M97.20,311.30 L130.50,281.11 A44.95,44.95 0 0 1 124.44,347.06 Z" fill="#c8102e" stroke="#fff" stroke-width="1.3" stroke-linejoin="round"/>
<path d="M97.20,311.30 L124.44,347.06 A44.95,44.95 0 1 1 82.05,268.98 Z" fill="#fe9000" stroke="#fff" stroke-width="1.3" stroke-linejoin="round"/>
<path d="M97.20,311.30 L82.05,268.98 A44.95,44.95 0 0 1 86.10,267.74 Z" fill="#4b1e6e" stroke="#fff" stroke-width="0.8" stroke-linejoin="round"/>
<path d="M97.20,311.30 L86.10,267.74 A44.95,44.95 0 0 1 93.75,266.48 Z" fill="#3ab54a" stroke="#fff" stroke-width="0.8" stroke-linejoin="round"/>
<text x="96.20" y="283.81" font-size="6.6" fill="#fff" textLength="22.80" lengthAdjust="spacingAndGlyphs">14.47%</text>
<text x="107.60" y="315.71" font-size="6.6" fill="#fff" textLength="23.10" lengthAdjust="spacingAndGlyphs">26.37%</text>
<text x="62.00" y="318.91" font-size="6.6" fill="#fff" textLength="19.00" lengthAdjust="spacingAndGlyphs">54.9%</text>
<text x="41.90" y="254.81" font-size="6.6" textLength="19.00" lengthAdjust="spacingAndGlyphs">1.51%</text>
<text x="96.80" y="255.01" font-size="6.6" textLength="19.10" lengthAdjust="spacingAndGlyphs">2.75%</text>
<line x1="65.40" y1="257.70" x2="83.20" y2="269.20" stroke="#231f20" stroke-width="0.8"/>
<line x1="102.50" y1="257.00" x2="91.00" y2="268.30" stroke="#231f20" stroke-width="0.8"/>
<rect x="46.00" y="373.30" width="7.10" height="7.30" fill="#fe9000"/>
<text x="54.80" y="379.38" font-size="6.8" textLength="18.00" lengthAdjust="spacingAndGlyphs">Intron</text>
<rect x="79.20" y="373.30" width="7.10" height="7.30" fill="#c8102e"/>
<text x="87.50" y="379.38" font-size="6.8" textLength="18.00" lengthAdjust="spacingAndGlyphs">3’UTR</text>
<rect x="113.80" y="373.30" width="7.10" height="7.30" fill="#134e80"/>
<text x="122.60" y="379.38" font-size="6.8" textLength="30.90" lengthAdjust="spacingAndGlyphs">Intergenic</text>
<rect x="65.80" y="385.30" width="7.10" height="7.30" fill="#4b1e6e"/>
<text x="74.60" y="391.38" font-size="6.8" textLength="18.90" lengthAdjust="spacingAndGlyphs">5’UTR</text>
<rect x="101.40" y="385.30" width="7.10" height="7.30" fill="#8dc63f"/>
<text x="110.60" y="391.38" font-size="6.8" textLength="14.80" lengthAdjust="spacingAndGlyphs">CDS</text>
<text x="177.80" y="251.00" font-size="12.0" fill="#000" font-weight="bold">D</text>
<line x1="213.80" y1="262.00" x2="213.80" y2="367.10" stroke="#231f20" stroke-width="1.2"/>
<line x1="213.20" y1="366.50" x2="273.90" y2="366.50" stroke="#231f20" stroke-width="1.2"/>
<line x1="211.50" y1="366.50" x2="213.80" y2="366.50" stroke="#231f20" stroke-width="0.9"/>
<text x="209.60" y="368.95" font-size="7.0" text-anchor="end" textLength="3.90" lengthAdjust="spacingAndGlyphs">0</text>
<line x1="211.50" y1="345.80" x2="213.80" y2="345.80" stroke="#231f20" stroke-width="0.9"/>
<text x="209.60" y="348.25" font-size="7.0" text-anchor="end" textLength="8.00" lengthAdjust="spacingAndGlyphs">20</text>
<line x1="211.50" y1="325.10" x2="213.80" y2="325.10" stroke="#231f20" stroke-width="0.9"/>
<text x="209.60" y="327.55" font-size="7.0" text-anchor="end" textLength="8.00" lengthAdjust="spacingAndGlyphs">40</text>
<line x1="211.50" y1="304.40" x2="213.80" y2="304.40" stroke="#231f20" stroke-width="0.9"/>
<text x="209.60" y="306.85" font-size="7.0" text-anchor="end" textLength="8.00" lengthAdjust="spacingAndGlyphs">60</text>
<line x1="211.50" y1="283.70" x2="213.80" y2="283.70" stroke="#231f20" stroke-width="0.9"/>
<text x="209.60" y="286.15" font-size="7.0" text-anchor="end" textLength="8.00" lengthAdjust="spacingAndGlyphs">80</text>
<line x1="211.50" y1="263.00" x2="213.80" y2="263.00" stroke="#231f20" stroke-width="0.9"/>
<text x="209.60" y="265.45" font-size="7.0" text-anchor="end" textLength="12.10" lengthAdjust="spacingAndGlyphs">100</text>
<text transform="translate(187.00 314.20) rotate(-90)" font-size="6.8" text-anchor="middle" dominant-baseline="central" textLength="31.00" lengthAdjust="spacingAndGlyphs">Percentage</text>
<rect x="216.50" y="263.00" width="8.10" height="79.18" fill="#134e80"/>
<rect x="216.50" y="342.18" width="8.10" height="23.82" fill="#c8102e"/>
<line x1="220.55" y1="367.10" x2="220.55" y2="369.20" stroke="#231f20" stroke-width="0.9"/>
<text transform="translate(220.15 374.20) rotate(-54)" font-size="7.2" text-anchor="end" dominant-baseline="central">Intron</text>
<rect x="228.20" y="263.00" width="8.10" height="61.06" fill="#134e80"/>
<rect x="228.20" y="324.06" width="8.10" height="41.94" fill="#c8102e"/>
<line x1="232.25" y1="367.10" x2="232.25" y2="369.20" stroke="#231f20" stroke-width="0.9"/>
<text transform="translate(231.85 374.20) rotate(-54)" font-size="7.2" text-anchor="end" dominant-baseline="central">3’UTR</text>
<rect x="239.80" y="263.00" width="8.10" height="74.52" fill="#134e80"/>
<rect x="239.80" y="337.52" width="8.10" height="28.48" fill="#c8102e"/>
<line x1="243.85" y1="367.10" x2="243.85" y2="369.20" stroke="#231f20" stroke-width="0.9"/>
<text transform="translate(243.45 374.20) rotate(-54)" font-size="7.2" text-anchor="end" dominant-baseline="central">Intergenic</text>
<rect x="251.20" y="263.00" width="8.10" height="69.86" fill="#134e80"/>
<rect x="251.20" y="332.86" width="8.10" height="33.14" fill="#c8102e"/>
<line x1="255.25" y1="367.10" x2="255.25" y2="369.20" stroke="#231f20" stroke-width="0.9"/>
<text transform="translate(254.85 374.20) rotate(-54)" font-size="7.2" text-anchor="end" dominant-baseline="central">5’UTR</text>
<rect x="263.00" y="263.00" width="8.10" height="6.00" fill="#263f8e"/>
<rect x="263.00" y="269.00" width="8.10" height="97.00" fill="#c8102e"/>
<line x1="267.05" y1="367.10" x2="267.05" y2="369.20" stroke="#231f20" stroke-width="0.9"/>
<text transform="translate(266.65 374.20) rotate(-54)" font-size="7.2" text-anchor="end" dominant-baseline="central">CDS</text>
<path d="M308.30,320.10 L332.18,338.09 A29.90,29.90 0 1 1 320.56,292.83 Z" fill="#134e80" stroke="#fff" stroke-width="1.4" stroke-linejoin="round"/>
<path d="M308.30,320.10 L320.56,292.83 A29.90,29.90 0 0 1 332.18,338.09 Z" fill="#c8102e" stroke="#fff" stroke-width="1.4" stroke-linejoin="round"/>
<text x="280.80" y="320.48" font-size="6.8" fill="#fff" textLength="22.80" lengthAdjust="spacingAndGlyphs">71.41%</text>
<text x="312.80" y="320.48" font-size="6.8" fill="#fff" textLength="23.20" lengthAdjust="spacingAndGlyphs">28.59%</text>
<rect x="281.40" y="270.60" width="6.10" height="4.90" fill="#134e80"/>
<rect x="281.40" y="279.40" width="6.10" height="4.90" fill="#c8102e"/>
<text x="290.90" y="275.38" font-size="6.8" textLength="17.90" lengthAdjust="spacingAndGlyphs">SINEs</text>
<text x="290.90" y="284.18" font-size="6.8" textLength="30.90" lengthAdjust="spacingAndGlyphs">non SINEs</text>
<text x="344.00" y="251.90" font-size="12.0" fill="#000" font-weight="bold">E</text>
<line x1="386.90" y1="272.60" x2="386.90" y2="349.40" stroke="#231f20" stroke-width="1.3"/>
<line x1="386.30" y1="348.90" x2="492.60" y2="348.90" stroke="#231f20" stroke-width="1.3"/>
<line x1="384.60" y1="348.60" x2="386.90" y2="348.60" stroke="#231f20" stroke-width="0.9"/>
<text x="381.90" y="351.05" font-size="7.0" text-anchor="end" textLength="10.00" lengthAdjust="spacingAndGlyphs">0.0</text>
<line x1="384.60" y1="329.20" x2="386.90" y2="329.20" stroke="#231f20" stroke-width="0.9"/>
<text x="381.90" y="331.65" font-size="7.0" text-anchor="end" textLength="10.00" lengthAdjust="spacingAndGlyphs">0.1</text>
<line x1="384.60" y1="309.80" x2="386.90" y2="309.80" stroke="#231f20" stroke-width="0.9"/>
<text x="381.90" y="312.25" font-size="7.0" text-anchor="end" textLength="10.00" lengthAdjust="spacingAndGlyphs">0.2</text>
<line x1="384.60" y1="290.40" x2="386.90" y2="290.40" stroke="#231f20" stroke-width="0.9"/>
<text x="381.90" y="292.85" font-size="7.0" text-anchor="end" textLength="10.00" lengthAdjust="spacingAndGlyphs">0.3</text>
<text transform="translate(359.80 310.60) rotate(-90)" font-size="6.8" text-anchor="middle" dominant-baseline="central" textLength="49.00" lengthAdjust="spacingAndGlyphs">Editing frequency</text>
<line x1="392.50" y1="273.10" x2="392.50" y2="313.10" stroke="#333" stroke-width="1.0"/>
<line x1="392.50" y1="339.60" x2="392.50" y2="345.60" stroke="#333" stroke-width="1.0"/>
<rect x="389.20" y="313.10" width="6.60" height="26.50" fill="#c8102e" stroke="#383838" stroke-width="1.1"/>
<line x1="389.20" y1="329.60" x2="395.80" y2="329.60" stroke="#333" stroke-width="1.8"/>
<line x1="392.50" y1="349.40" x2="392.50" y2="352.60" stroke="#231f20" stroke-width="1.0"/>
<text transform="translate(392.70 356.20) rotate(-61)" font-size="7.0" text-anchor="end" dominant-baseline="central">LT−HSC</text>
<line x1="400.80" y1="270.80" x2="400.80" y2="311.50" stroke="#333" stroke-width="1.0"/>
<line x1="400.80" y1="339.60" x2="400.80" y2="345.60" stroke="#333" stroke-width="1.0"/>
<rect x="397.50" y="311.50" width="6.60" height="28.10" fill="#c8102e" stroke="#383838" stroke-width="1.1"/>
<line x1="397.50" y1="328.50" x2="404.10" y2="328.50" stroke="#333" stroke-width="1.8"/>
<line x1="400.80" y1="349.40" x2="400.80" y2="352.60" stroke="#231f20" stroke-width="1.0"/>
<text transform="translate(401.00 356.20) rotate(-61)" font-size="7.0" text-anchor="end" dominant-baseline="central">ST−HSC</text>
<line x1="409.40" y1="272.70" x2="409.40" y2="313.10" stroke="#333" stroke-width="1.0"/>
<line x1="409.40" y1="339.60" x2="409.40" y2="345.60" stroke="#333" stroke-width="1.0"/>
<rect x="406.10" y="313.10" width="6.60" height="26.50" fill="#c8102e" stroke="#383838" stroke-width="1.1"/>
<line x1="406.10" y1="329.40" x2="412.70" y2="329.40" stroke="#333" stroke-width="1.8"/>
<line x1="409.40" y1="349.40" x2="409.40" y2="352.60" stroke="#231f20" stroke-width="1.0"/>
<text transform="translate(409.60 356.20) rotate(-61)" font-size="7.0" text-anchor="end" dominant-baseline="central">MPP</text>
<line x1="418.30" y1="272.70" x2="418.30" y2="313.10" stroke="#333" stroke-width="1.0"/>
<line x1="418.30" y1="339.60" x2="418.30" y2="345.60" stroke="#333" stroke-width="1.0"/>
<rect x="415.00" y="313.10" width="6.60" height="26.50" fill="#c8102e" stroke="#383838" stroke-width="1.1"/>
<line x1="415.00" y1="330.80" x2="421.60" y2="330.80" stroke="#333" stroke-width="1.8"/>
<line x1="418.30" y1="349.40" x2="418.30" y2="352.60" stroke="#231f20" stroke-width="1.0"/>
<text transform="translate(418.50 356.20) rotate(-61)" font-size="7.0" text-anchor="end" dominant-baseline="central">CMP</text>
<line x1="426.80" y1="272.60" x2="426.80" y2="312.60" stroke="#333" stroke-width="1.0"/>
<line x1="426.80" y1="339.70" x2="426.80" y2="345.60" stroke="#333" stroke-width="1.0"/>
<rect x="423.50" y="312.60" width="6.60" height="27.10" fill="#c8102e" stroke="#383838" stroke-width="1.1"/>
<line x1="423.50" y1="329.50" x2="430.10" y2="329.50" stroke="#333" stroke-width="1.8"/>
<line x1="426.80" y1="349.40" x2="426.80" y2="352.60" stroke="#231f20" stroke-width="1.0"/>
<text transform="translate(427.00 356.20) rotate(-61)" font-size="7.0" text-anchor="end" dominant-baseline="central">MEP</text>
<line x1="435.40" y1="272.60" x2="435.40" y2="312.60" stroke="#333" stroke-width="1.0"/>
<line x1="435.40" y1="339.70" x2="435.40" y2="345.60" stroke="#333" stroke-width="1.0"/>
<rect x="432.10" y="312.60" width="6.60" height="27.10" fill="#c8102e" stroke="#383838" stroke-width="1.1"/>
<line x1="432.10" y1="330.50" x2="438.70" y2="330.50" stroke="#333" stroke-width="1.8"/>
<line x1="435.40" y1="349.40" x2="435.40" y2="352.60" stroke="#231f20" stroke-width="1.0"/>
<text transform="translate(435.60 356.20) rotate(-61)" font-size="7.0" text-anchor="end" dominant-baseline="central">GMP</text>
<line x1="444.30" y1="286.50" x2="444.30" y2="318.80" stroke="#333" stroke-width="1.0"/>
<line x1="444.30" y1="340.30" x2="444.30" y2="345.60" stroke="#333" stroke-width="1.0"/>
<rect x="441.00" y="318.80" width="6.60" height="21.50" fill="#c8102e" stroke="#383838" stroke-width="1.1"/>
<line x1="441.00" y1="333.80" x2="447.60" y2="333.80" stroke="#333" stroke-width="1.8"/>
<line x1="444.30" y1="349.40" x2="444.30" y2="352.60" stroke="#231f20" stroke-width="1.0"/>
<text transform="translate(444.50 356.20) rotate(-61)" font-size="7.0" text-anchor="end" dominant-baseline="central">MK</text>
<line x1="452.90" y1="292.60" x2="452.90" y2="321.50" stroke="#333" stroke-width="1.0"/>
<line x1="452.90" y1="341.00" x2="452.90" y2="345.60" stroke="#333" stroke-width="1.0"/>
<rect x="449.60" y="321.50" width="6.60" height="19.50" fill="#c8102e" stroke="#383838" stroke-width="1.1"/>
<line x1="449.60" y1="335.00" x2="456.20" y2="335.00" stroke="#333" stroke-width="1.8"/>
<line x1="452.90" y1="349.40" x2="452.90" y2="352.60" stroke="#231f20" stroke-width="1.0"/>
<text transform="translate(453.10 356.20) rotate(-61)" font-size="7.0" text-anchor="end" dominant-baseline="central">Ery−A</text>
<line x1="461.50" y1="289.80" x2="461.50" y2="320.60" stroke="#333" stroke-width="1.0"/>
<line x1="461.50" y1="341.00" x2="461.50" y2="345.60" stroke="#333" stroke-width="1.0"/>
<rect x="458.20" y="320.60" width="6.60" height="20.40" fill="#c8102e" stroke="#383838" stroke-width="1.1"/>
<line x1="458.20" y1="335.00" x2="464.80" y2="335.00" stroke="#333" stroke-width="1.8"/>
<line x1="461.50" y1="349.40" x2="461.50" y2="352.60" stroke="#231f20" stroke-width="1.0"/>
<text transform="translate(461.70 356.20) rotate(-61)" font-size="7.0" text-anchor="end" dominant-baseline="central">Ery−B</text>
<line x1="470.20" y1="274.20" x2="470.20" y2="313.20" stroke="#333" stroke-width="1.0"/>
<line x1="470.20" y1="339.70" x2="470.20" y2="345.60" stroke="#333" stroke-width="1.0"/>
<rect x="466.90" y="313.20" width="6.60" height="26.50" fill="#c8102e" stroke="#383838" stroke-width="1.1"/>
<line x1="466.90" y1="332.00" x2="473.50" y2="332.00" stroke="#333" stroke-width="1.8"/>
<line x1="470.20" y1="349.40" x2="470.20" y2="352.60" stroke="#231f20" stroke-width="1.0"/>
<text transform="translate(470.40 356.20) rotate(-61)" font-size="7.0" text-anchor="end" dominant-baseline="central">monocyte</text>
<line x1="478.80" y1="284.00" x2="478.80" y2="317.80" stroke="#333" stroke-width="1.0"/>
<line x1="478.80" y1="340.30" x2="478.80" y2="345.60" stroke="#333" stroke-width="1.0"/>
<rect x="475.50" y="317.80" width="6.60" height="22.50" fill="#c8102e" stroke="#383838" stroke-width="1.1"/>
<line x1="475.50" y1="333.20" x2="482.10" y2="333.20" stroke="#333" stroke-width="1.8"/>
<line x1="478.80" y1="349.40" x2="478.80" y2="352.60" stroke="#231f20" stroke-width="1.0"/>
<text transform="translate(479.00 356.20) rotate(-61)" font-size="7.0" text-anchor="end" dominant-baseline="central">macrophage</text>
<line x1="487.40" y1="293.50" x2="487.40" y2="322.20" stroke="#333" stroke-width="1.0"/>
<line x1="487.40" y1="341.50" x2="487.40" y2="345.60" stroke="#333" stroke-width="1.0"/>
<rect x="484.10" y="322.20" width="6.60" height="19.30" fill="#c8102e" stroke="#383838" stroke-width="1.1"/>
<line x1="484.10" y1="336.00" x2="490.70" y2="336.00" stroke="#333" stroke-width="1.8"/>
<line x1="487.40" y1="349.40" x2="487.40" y2="352.60" stroke="#231f20" stroke-width="1.0"/>
<text transform="translate(487.60 356.20) rotate(-61)" font-size="7.0" text-anchor="end" dominant-baseline="central">granulocyte</text>
<text x="12.50" y="429.60" font-size="12.0" fill="#000" font-weight="bold">F</text>
<line x1="50.80" y1="440.40" x2="50.80" y2="508.00" stroke="#231f20" stroke-width="1.3"/>
<line x1="50.20" y1="507.60" x2="128.00" y2="507.60" stroke="#231f20" stroke-width="1.3"/>
<line x1="48.50" y1="450.40" x2="50.80" y2="450.40" stroke="#231f20" stroke-width="0.9"/>
<text x="47.80" y="452.71" font-size="6.6" text-anchor="end" textLength="14.80" lengthAdjust="spacingAndGlyphs">2000</text>
<line x1="48.50" y1="463.80" x2="50.80" y2="463.80" stroke="#231f20" stroke-width="0.9"/>
<text x="47.80" y="466.11" font-size="6.6" text-anchor="end" textLength="14.80" lengthAdjust="spacingAndGlyphs">1500</text>
<line x1="48.50" y1="477.70" x2="50.80" y2="477.70" stroke="#231f20" stroke-width="0.9"/>
<text x="47.80" y="480.01" font-size="6.6" text-anchor="end" textLength="14.80" lengthAdjust="spacingAndGlyphs">1000</text>
<line x1="48.50" y1="491.50" x2="50.80" y2="491.50" stroke="#231f20" stroke-width="0.9"/>
<text x="47.80" y="493.81" font-size="6.6" text-anchor="end" textLength="11.00" lengthAdjust="spacingAndGlyphs">500</text>
<line x1="48.50" y1="505.40" x2="50.80" y2="505.40" stroke="#231f20" stroke-width="0.9"/>
<text x="47.80" y="507.71" font-size="6.6" text-anchor="end" textLength="3.60" lengthAdjust="spacingAndGlyphs">0</text>
<line x1="54.40" y1="508.20" x2="54.40" y2="510.20" stroke="#231f20" stroke-width="0.9"/>
<text x="54.40" y="518.51" font-size="6.6" text-anchor="middle" textLength="3.60" lengthAdjust="spacingAndGlyphs">0</text>
<line x1="71.90" y1="508.20" x2="71.90" y2="510.20" stroke="#231f20" stroke-width="0.9"/>
<text x="71.90" y="518.51" font-size="6.6" text-anchor="middle" textLength="14.00" lengthAdjust="spacingAndGlyphs">0.25</text>
<line x1="89.40" y1="508.20" x2="89.40" y2="510.20" stroke="#231f20" stroke-width="0.9"/>
<text x="89.40" y="518.51" font-size="6.6" text-anchor="middle" textLength="10.00" lengthAdjust="spacingAndGlyphs">0.5</text>
<line x1="106.90" y1="508.20" x2="106.90" y2="510.20" stroke="#231f20" stroke-width="0.9"/>
<text x="106.90" y="518.51" font-size="6.6" text-anchor="middle" textLength="14.00" lengthAdjust="spacingAndGlyphs">0.75</text>
<line x1="124.40" y1="508.20" x2="124.40" y2="510.20" stroke="#231f20" stroke-width="0.9"/>
<text x="124.40" y="518.51" font-size="6.6" text-anchor="middle" textLength="3.60" lengthAdjust="spacingAndGlyphs">1</text>
<linearGradient id="hg54" gradientUnits="userSpaceOnUse" x1="54.40" y1="0" x2="124.40" y2="0"><stop offset="0.000" stop-color="#1862b2"/><stop offset="0.025" stop-color="#2778ba"/><stop offset="0.050" stop-color="#3789b9"/><stop offset="0.075" stop-color="#489aad"/><stop offset="0.100" stop-color="#5aaca0"/><stop offset="0.125" stop-color="#6fba96"/><stop offset="0.150" stop-color="#84c88c"/><stop offset="0.175" stop-color="#92cf8c"/><stop offset="0.200" stop-color="#a1d68c"/><stop offset="0.225" stop-color="#aedd8d"/><stop offset="0.250" stop-color="#bbe290"/><stop offset="0.275" stop-color="#c8e794"/><stop offset="0.300" stop-color="#d4ec98"/><stop offset="0.325" stop-color="#daee9b"/><stop offset="0.350" stop-color="#e1f09e"/><stop offset="0.375" stop-color="#e8f2a1"/><stop offset="0.400" stop-color="#eef4a4"/><stop offset="0.425" stop-color="#f1f4a6"/><stop offset="0.450" stop-color="#f4f4a8"/><stop offset="0.475" stop-color="#f8f5aa"/><stop offset="0.500" stop-color="#fbf5ac"/><stop offset="0.525" stop-color="#fbefa2"/><stop offset="0.550" stop-color="#fce898"/><stop offset="0.575" stop-color="#fce28e"/><stop offset="0.600" stop-color="#fddc84"/><stop offset="0.625" stop-color="#fdd57a"/><stop offset="0.650" stop-color="#fdc972"/><stop offset="0.675" stop-color="#fcbd69"/><stop offset="0.700" stop-color="#fcb161"/><stop offset="0.725" stop-color="#fca459"/><stop offset="0.750" stop-color="#fa9654"/><stop offset="0.775" stop-color="#f78950"/><stop offset="0.800" stop-color="#f57b4b"/><stop offset="0.825" stop-color="#f36d47"/><stop offset="0.850" stop-color="#f06043"/><stop offset="0.875" stop-color="#ea5341"/><stop offset="0.900" stop-color="#e4453f"/><stop offset="0.925" stop-color="#df383d"/><stop offset="0.950" stop-color="#d92b3b"/><stop offset="0.975" stop-color="#d42235"/><stop offset="1.000" stop-color="#d01c2c"/></linearGradient>
<path d="M54.40,505.40 L54.40,491.05 L56.73,491.05 L56.73,443.30 L59.07,443.30 L59.07,462.34 L61.40,462.34 L61.40,474.21 L63.73,474.21 L63.73,482.77 L66.07,482.77 L66.07,482.77 L68.40,482.77 L68.40,490.50 L70.73,490.50 L70.73,494.64 L73.07,494.64 L73.07,497.12 L75.40,497.12 L75.40,499.19 L77.73,499.19 L77.73,500.85 L80.07,500.85 L80.07,501.95 L82.40,501.95 L82.40,502.78 L84.73,502.78 L84.73,503.41 L87.07,503.41 L87.07,503.80 L89.40,503.80 L89.40,504.08 L91.73,504.08 L91.73,504.30 L94.07,504.30 L94.07,504.46 L96.40,504.46 L96.40,504.57 L98.73,504.57 L98.73,504.68 L101.07,504.68 L101.07,504.79 L103.40,504.79 L103.40,504.85 L105.73,504.85 L105.73,504.90 L108.07,504.90 L108.07,504.95 L110.40,504.95 L110.40,504.95 L112.73,504.95 L112.73,504.95 L115.07,504.95 L115.07,504.95 L117.40,504.95 L117.40,504.95 L119.73,504.95 L119.73,504.95 L122.07,504.95 L122.07,504.95 L124.40,504.95 L124.40,505.40 Z" fill="url(#hg54)"/>
<text x="77.00" y="434.98" font-size="6.8" textLength="26.00" lengthAdjust="spacingAndGlyphs">LT−HSC</text>
<rect x="121.00" y="502.00" width="4.90" height="4.40" fill="none" stroke="#222" stroke-width="0.8"/>
<rect x="131.20" y="436.50" width="5.50" height="6.52" fill="#d22e4a"/>
<rect x="131.20" y="442.97" width="5.50" height="6.52" fill="#d3304a"/>
<rect x="131.20" y="449.44" width="5.50" height="6.52" fill="#d4324a"/>
<rect x="131.20" y="455.91" width="5.50" height="6.52" fill="#d6344a"/>
<rect x="131.20" y="462.38" width="5.50" height="6.52" fill="#d8384a"/>
<rect x="131.20" y="468.85" width="5.50" height="6.52" fill="#e44e4a"/>
<rect x="131.20" y="475.32" width="5.50" height="6.52" fill="#e65249"/>
<rect x="131.20" y="481.79" width="5.50" height="6.52" fill="#e95748"/>
<rect x="131.20" y="488.26" width="5.50" height="6.52" fill="#ec5c47"/>
<rect x="131.20" y="494.73" width="5.50" height="6.52" fill="#ef6346"/>
<line x1="125.90" y1="502.00" x2="131.20" y2="436.50" stroke="#222" stroke-width="0.6"/>
<line x1="125.90" y1="505.80" x2="131.20" y2="501.20" stroke="#222" stroke-width="0.6"/>
<text x="139.60" y="441.98" font-size="6.8" font-style="italic">Rpsa−ps10</text>
<text x="139.60" y="448.58" font-size="6.8" font-style="italic">Vipr2</text>
<text x="139.60" y="455.18" font-size="6.8" font-style="italic">Rpa1</text>
<text x="139.60" y="461.78" font-size="6.8" font-style="italic">Fbxl18</text>
<text x="139.60" y="468.38" font-size="6.8" font-style="italic">Mmp19</text>
<text x="139.60" y="474.98" font-size="6.8" font-style="italic">Rbm8a</text>
<text x="139.60" y="481.58" font-size="6.8" font-style="italic">Cds2</text>
<text x="139.60" y="488.18" font-size="6.8" font-style="italic">Trove2</text>
<text x="139.60" y="494.78" font-size="6.8" font-style="italic">Map2k4</text>
<text x="139.60" y="501.38" font-size="6.8" font-style="italic">Zfp783</text>
<line x1="220.60" y1="442.20" x2="220.60" y2="508.30" stroke="#231f20" stroke-width="1.3"/>
<line x1="220.00" y1="507.90" x2="296.50" y2="507.90" stroke="#231f20" stroke-width="1.3"/>
<line x1="218.30" y1="452.20" x2="220.60" y2="452.20" stroke="#231f20" stroke-width="0.9"/>
<text x="217.60" y="454.51" font-size="6.6" text-anchor="end" textLength="14.80" lengthAdjust="spacingAndGlyphs">2000</text>
<line x1="218.30" y1="465.50" x2="220.60" y2="465.50" stroke="#231f20" stroke-width="0.9"/>
<text x="217.60" y="467.81" font-size="6.6" text-anchor="end" textLength="14.80" lengthAdjust="spacingAndGlyphs">1500</text>
<line x1="218.30" y1="478.80" x2="220.60" y2="478.80" stroke="#231f20" stroke-width="0.9"/>
<text x="217.60" y="481.11" font-size="6.6" text-anchor="end" textLength="14.80" lengthAdjust="spacingAndGlyphs">1000</text>
<line x1="218.30" y1="492.40" x2="220.60" y2="492.40" stroke="#231f20" stroke-width="0.9"/>
<text x="217.60" y="494.71" font-size="6.6" text-anchor="end" textLength="11.00" lengthAdjust="spacingAndGlyphs">500</text>
<line x1="218.30" y1="505.70" x2="220.60" y2="505.70" stroke="#231f20" stroke-width="0.9"/>
<text x="217.60" y="508.01" font-size="6.6" text-anchor="end" textLength="3.60" lengthAdjust="spacingAndGlyphs">0</text>
<line x1="224.80" y1="508.50" x2="224.80" y2="510.50" stroke="#231f20" stroke-width="0.9"/>
<text x="224.80" y="518.81" font-size="6.6" text-anchor="middle" textLength="3.60" lengthAdjust="spacingAndGlyphs">0</text>
<line x1="241.60" y1="508.50" x2="241.60" y2="510.50" stroke="#231f20" stroke-width="0.9"/>
<text x="241.60" y="518.81" font-size="6.6" text-anchor="middle" textLength="14.00" lengthAdjust="spacingAndGlyphs">0.25</text>
<line x1="258.40" y1="508.50" x2="258.40" y2="510.50" stroke="#231f20" stroke-width="0.9"/>
<text x="258.40" y="518.81" font-size="6.6" text-anchor="middle" textLength="10.00" lengthAdjust="spacingAndGlyphs">0.5</text>
<line x1="275.20" y1="508.50" x2="275.20" y2="510.50" stroke="#231f20" stroke-width="0.9"/>
<text x="275.20" y="518.81" font-size="6.6" text-anchor="middle" textLength="14.00" lengthAdjust="spacingAndGlyphs">0.75</text>
<line x1="292.00" y1="508.50" x2="292.00" y2="510.50" stroke="#231f20" stroke-width="0.9"/>
<text x="292.00" y="518.81" font-size="6.6" text-anchor="middle" textLength="3.60" lengthAdjust="spacingAndGlyphs">1</text>
<linearGradient id="hg224" gradientUnits="userSpaceOnUse" x1="224.80" y1="0" x2="292.00" y2="0"><stop offset="0.000" stop-color="#1862b2"/><stop offset="0.025" stop-color="#2778ba"/><stop offset="0.050" stop-color="#3789b9"/><stop offset="0.075" stop-color="#489aad"/><stop offset="0.100" stop-color="#5aaca0"/><stop offset="0.125" stop-color="#6fba96"/><stop offset="0.150" stop-color="#84c88c"/><stop offset="0.175" stop-color="#92cf8c"/><stop offset="0.200" stop-color="#a1d68c"/><stop offset="0.225" stop-color="#aedd8d"/><stop offset="0.250" stop-color="#bbe290"/><stop offset="0.275" stop-color="#c8e794"/><stop offset="0.300" stop-color="#d4ec98"/><stop offset="0.325" stop-color="#daee9b"/><stop offset="0.350" stop-color="#e1f09e"/><stop offset="0.375" stop-color="#e8f2a1"/><stop offset="0.400" stop-color="#eef4a4"/><stop offset="0.425" stop-color="#f1f4a6"/><stop offset="0.450" stop-color="#f4f4a8"/><stop offset="0.475" stop-color="#f8f5aa"/><stop offset="0.500" stop-color="#fbf5ac"/><stop offset="0.525" stop-color="#fbefa2"/><stop offset="0.550" stop-color="#fce898"/><stop offset="0.575" stop-color="#fce28e"/><stop offset="0.600" stop-color="#fddc84"/><stop offset="0.625" stop-color="#fdd57a"/><stop offset="0.650" stop-color="#fdc972"/><stop offset="0.675" stop-color="#fcbd69"/><stop offset="0.700" stop-color="#fcb161"/><stop offset="0.725" stop-color="#fca459"/><stop offset="0.750" stop-color="#fa9654"/><stop offset="0.775" stop-color="#f78950"/><stop offset="0.800" stop-color="#f57b4b"/><stop offset="0.825" stop-color="#f36d47"/><stop offset="0.850" stop-color="#f06043"/><stop offset="0.875" stop-color="#ea5341"/><stop offset="0.900" stop-color="#e4453f"/><stop offset="0.925" stop-color="#df383d"/><stop offset="0.950" stop-color="#d92b3b"/><stop offset="0.975" stop-color="#d42235"/><stop offset="1.000" stop-color="#d01c2c"/></linearGradient>
<path d="M224.80,505.70 L224.80,493.37 L227.04,493.37 L227.04,445.40 L229.28,445.40 L229.28,466.04 L231.52,466.04 L231.52,474.88 L233.76,474.88 L233.76,481.58 L236.00,481.58 L236.00,481.85 L238.24,481.85 L238.24,490.69 L240.48,490.69 L240.48,494.44 L242.72,494.44 L242.72,497.12 L244.96,497.12 L244.96,499.00 L247.20,499.00 L247.20,500.61 L249.44,500.61 L249.44,501.81 L251.68,501.81 L251.68,502.75 L253.92,502.75 L253.92,503.42 L256.16,503.42 L256.16,503.88 L258.40,503.88 L258.40,504.23 L260.64,504.23 L260.64,504.47 L262.88,504.47 L262.88,504.63 L265.12,504.63 L265.12,504.79 L267.36,504.79 L267.36,504.90 L269.60,504.90 L269.60,505.00 L271.84,505.00 L271.84,505.11 L274.08,505.11 L274.08,505.16 L276.32,505.16 L276.32,505.22 L278.56,505.22 L278.56,505.25 L280.80,505.25 L280.80,505.25 L283.04,505.25 L283.04,505.25 L285.28,505.25 L285.28,505.25 L287.52,505.25 L287.52,505.25 L289.76,505.25 L289.76,505.25 L292.00,505.25 L292.00,505.70 Z" fill="url(#hg224)"/>
<text x="241.80" y="434.98" font-size="6.8" textLength="25.40" lengthAdjust="spacingAndGlyphs">ST−HSC</text>
<rect x="289.20" y="502.30" width="4.60" height="5.10" fill="none" stroke="#222" stroke-width="0.8"/>
<rect x="298.00" y="439.20" width="4.90" height="6.36" fill="#d22e4a"/>
<rect x="298.00" y="445.51" width="4.90" height="6.36" fill="#d3304a"/>
<rect x="298.00" y="451.82" width="4.90" height="6.36" fill="#d4324a"/>
<rect x="298.00" y="458.13" width="4.90" height="6.36" fill="#d6344a"/>
<rect x="298.00" y="464.44" width="4.90" height="6.36" fill="#d8384a"/>
<rect x="298.00" y="470.75" width="4.90" height="6.36" fill="#e44e4a"/>
<rect x="298.00" y="477.06" width="4.90" height="6.36" fill="#e65249"/>
<rect x="298.00" y="483.37" width="4.90" height="6.36" fill="#e95748"/>
<rect x="298.00" y="489.68" width="4.90" height="6.36" fill="#ec5c47"/>
<rect x="298.00" y="495.99" width="4.90" height="6.36" fill="#ef6346"/>
<line x1="293.80" y1="502.30" x2="298.00" y2="439.20" stroke="#222" stroke-width="0.6"/>
<line x1="293.80" y1="506.80" x2="298.00" y2="502.30" stroke="#222" stroke-width="0.6"/>
<text x="305.80" y="445.18" font-size="6.8" font-style="italic">Gm12504</text>
<text x="305.80" y="451.50" font-size="6.8" font-style="italic">Rpsa−ps10</text>
<text x="305.80" y="457.82" font-size="6.8" font-style="italic">Gm8292</text>
<text x="305.80" y="464.14" font-size="6.8" font-style="italic">Gm7862</text>
<text x="305.80" y="470.46" font-size="6.8" font-style="italic">Esr2</text>
<text x="305.80" y="476.78" font-size="6.8" font-style="italic">Cdca2</text>
<text x="305.80" y="483.10" font-size="6.8" font-style="italic">Rpa1</text>
<text x="305.80" y="489.42" font-size="6.8" font-style="italic">Abl1</text>
<text x="305.80" y="495.74" font-size="6.8" font-style="italic">Rnf168</text>
<text x="305.80" y="502.06" font-size="6.8" font-style="italic">Rbm8a</text>
<text transform="translate(21.30 475.00) rotate(-90)" font-size="6.8" text-anchor="middle" dominant-baseline="central" textLength="65.40" lengthAdjust="spacingAndGlyphs">Number of editing sites</text>
<text transform="translate(192.80 475.60) rotate(-90)" font-size="6.8" text-anchor="middle" dominant-baseline="central" textLength="65.40" lengthAdjust="spacingAndGlyphs">Number of editing sites</text>
<text x="63.80" y="528.18" font-size="6.8" textLength="52.40" lengthAdjust="spacingAndGlyphs">Mean editing level</text>
<text x="231.80" y="528.18" font-size="6.8" textLength="51.90" lengthAdjust="spacingAndGlyphs">Mean editing level</text>
<text x="303.80" y="535.88" font-size="6.8" textLength="37.70" lengthAdjust="spacingAndGlyphs">Editing level</text>
<linearGradient id="gLeg" gradientUnits="userSpaceOnUse" x1="296.2" y1="0" x2="346.9" y2="0"><stop offset="0.000" stop-color="#1862b2"/><stop offset="0.025" stop-color="#2778ba"/><stop offset="0.050" stop-color="#3789b9"/><stop offset="0.075" stop-color="#489aad"/><stop offset="0.100" stop-color="#5aaca0"/><stop offset="0.125" stop-color="#6fba96"/><stop offset="0.150" stop-color="#84c88c"/><stop offset="0.175" stop-color="#92cf8c"/><stop offset="0.200" stop-color="#a1d68c"/><stop offset="0.225" stop-color="#aedd8d"/><stop offset="0.250" stop-color="#bbe290"/><stop offset="0.275" stop-color="#c8e794"/><stop offset="0.300" stop-color="#d4ec98"/><stop offset="0.325" stop-color="#daee9b"/><stop offset="0.350" stop-color="#e1f09e"/><stop offset="0.375" stop-color="#e8f2a1"/><stop offset="0.400" stop-color="#eef4a4"/><stop offset="0.425" stop-color="#f1f4a6"/><stop offset="0.450" stop-color="#f4f4a8"/><stop offset="0.475" stop-color="#f8f5aa"/><stop offset="0.500" stop-color="#fbf5ac"/><stop offset="0.525" stop-color="#fbefa2"/><stop offset="0.550" stop-color="#fce898"/><stop offset="0.575" stop-color="#fce28e"/><stop offset="0.600" stop-color="#fddc84"/><stop offset="0.625" stop-color="#fdd57a"/><stop offset="0.650" stop-color="#fdc972"/><stop offset="0.675" stop-color="#fcbd69"/><stop offset="0.700" stop-color="#fcb161"/><stop offset="0.725" stop-color="#fca459"/><stop offset="0.750" stop-color="#fa9654"/><stop offset="0.775" stop-color="#f78950"/><stop offset="0.800" stop-color="#f57b4b"/><stop offset="0.825" stop-color="#f36d47"/><stop offset="0.850" stop-color="#f06043"/><stop offset="0.875" stop-color="#ea5341"/><stop offset="0.900" stop-color="#e4453f"/><stop offset="0.925" stop-color="#df383d"/><stop offset="0.950" stop-color="#d92b3b"/><stop offset="0.975" stop-color="#d42235"/><stop offset="1.000" stop-color="#d01c2c"/></linearGradient>
<rect x="296.20" y="538.40" width="50.70" height="2.60" fill="url(#gLeg)"/>
<text x="297.20" y="548.81" font-size="6.6" text-anchor="middle" textLength="3.60" lengthAdjust="spacingAndGlyphs">0</text>
<text x="345.80" y="548.81" font-size="6.6" text-anchor="middle" textLength="3.00" lengthAdjust="spacingAndGlyphs">1</text>
<text x="346.20" y="429.60" font-size="12.0" fill="#000" font-weight="bold">G</text>
<path d="M380.50,440.20L451.00,440.20 M380.50,440.20L380.50,553.00 M451.00,440.20L451.00,473.90 M430.50,473.90L470.90,473.90 M430.50,473.90L430.50,529.10 M421.40,529.10L440.20,529.10 M421.40,529.10L421.40,545.80 M440.20,529.10L440.20,542.50 M434.30,542.50L447.30,542.50 M434.30,542.50L434.30,558.60 M447.30,542.50L447.30,560.00 M470.90,473.90L470.90,495.70 M460.20,495.70L482.60,495.70 M460.20,495.70L460.20,514.00 M482.60,495.70L482.60,545.60 M473.30,545.60L492.30,545.60 M473.30,545.60L473.30,563.90 M492.30,545.60L492.30,576.30 M486.00,576.30L498.90,576.30 M486.00,576.30L486.00,592.90 M498.90,576.30L498.90,592.90 M369.50,553.00L392.30,553.00 M369.50,553.00L369.50,570.20 M392.30,553.00L392.30,587.90 M382.10,587.90L401.70,587.90 M382.10,587.90L382.10,604.60 M401.70,587.90L401.70,622.10 M395.00,622.10L408.50,622.10 M395.00,622.10L395.00,637.60 M408.50,622.10L408.50,640.00" stroke="#2a2a2a" stroke-width="0.9" fill="none" stroke-linecap="square"/>
<text transform="translate(421.40 547.30) rotate(-90)" font-size="6.6" text-anchor="end" dominant-baseline="central" textLength="29.00" lengthAdjust="spacingAndGlyphs">LT-HSC</text>
<text transform="translate(434.30 560.20) rotate(-90)" font-size="6.6" text-anchor="end" dominant-baseline="central" textLength="28.80" lengthAdjust="spacingAndGlyphs">ST-HSC</text>
<text transform="translate(447.30 561.70) rotate(-90)" font-size="6.6" text-anchor="end" dominant-baseline="central" textLength="16.10" lengthAdjust="spacingAndGlyphs">MPP</text>
<text transform="translate(460.20 515.50) rotate(-90)" font-size="6.6" text-anchor="end" dominant-baseline="central" textLength="35.90" lengthAdjust="spacingAndGlyphs">Monocyte</text>
<text transform="translate(473.30 565.60) rotate(-90)" font-size="6.6" text-anchor="end" dominant-baseline="central" textLength="15.90" lengthAdjust="spacingAndGlyphs">MEP</text>
<text transform="translate(486.00 596.10) rotate(-90)" font-size="6.6" text-anchor="end" dominant-baseline="central" textLength="16.20" lengthAdjust="spacingAndGlyphs">CMP</text>
<text transform="translate(498.90 596.10) rotate(-90)" font-size="6.6" text-anchor="end" dominant-baseline="central" textLength="16.70" lengthAdjust="spacingAndGlyphs">GMP</text>
<text transform="translate(369.50 571.70) rotate(-90)" font-size="6.6" text-anchor="end" dominant-baseline="central" textLength="20.80" lengthAdjust="spacingAndGlyphs">Ery-A</text>
<text transform="translate(382.10 606.00) rotate(-90)" font-size="6.6" text-anchor="end" dominant-baseline="central" textLength="47.10" lengthAdjust="spacingAndGlyphs">Granulocyte</text>
<text transform="translate(395.00 639.00) rotate(-90)" font-size="6.6" text-anchor="end" dominant-baseline="central" textLength="14.00" lengthAdjust="spacingAndGlyphs">MK</text>
<text transform="translate(408.50 641.60) rotate(-90)" font-size="6.6" text-anchor="end" dominant-baseline="central" textLength="46.40" lengthAdjust="spacingAndGlyphs">Macrophage</text>
<text x="13.00" y="558.00" font-size="12.0" fill="#000" font-weight="bold">H</text>
<text x="158.80" y="560.70" font-size="8.0" textLength="94.30" lengthAdjust="spacingAndGlyphs">Module−trait relationships</text>
<rect x="84.20" y="570.10" width="8.90" height="10.07" fill="#ff0000"/>
<text x="81.20" y="578.15" font-size="7.0" text-anchor="end" textLength="38.00" lengthAdjust="spacingAndGlyphs">ME red(231)</text>
<rect x="93.40" y="570.10" width="20.76" height="10.07" fill="#ebf3fd"/>
<text x="103.75" y="577.62" font-size="6.9" text-anchor="middle" fill="#2a2a2a">0.8</text>
<rect x="114.11" y="570.10" width="20.76" height="10.07" fill="#ebf3fd"/>
<text x="124.46" y="577.62" font-size="6.9" text-anchor="middle" fill="#2a2a2a">0.8</text>
<rect x="134.82" y="570.10" width="20.76" height="10.07" fill="#e0edfc"/>
<text x="145.17" y="577.62" font-size="6.9" text-anchor="middle" fill="#2a2a2a">0.7</text>
<rect x="155.53" y="570.10" width="20.76" height="10.07" fill="#e0edfc"/>
<text x="165.88" y="577.62" font-size="6.9" text-anchor="middle" fill="#2a2a2a">0.7</text>
<rect x="176.24" y="570.10" width="20.76" height="10.07" fill="#ebf3fd"/>
<text x="186.59" y="577.62" font-size="6.9" text-anchor="middle" fill="#2a2a2a">0.8</text>
<rect x="196.95" y="570.10" width="20.76" height="10.07" fill="#d7e8fb"/>
<text x="207.30" y="577.62" font-size="6.9" text-anchor="middle" fill="#2a2a2a">0.6</text>
<rect x="217.65" y="570.10" width="20.76" height="10.07" fill="#e0edfc"/>
<text x="228.01" y="577.62" font-size="6.9" text-anchor="middle" fill="#2a2a2a">0.7</text>
<rect x="238.36" y="570.10" width="20.76" height="10.07" fill="#ef4418"/>
<text x="248.72" y="577.62" font-size="6.9" text-anchor="middle" fill="#2a2a2a">4e−10</text>
<rect x="259.07" y="570.10" width="20.76" height="10.07" fill="#ebf3fd"/>
<text x="269.43" y="577.62" font-size="6.9" text-anchor="middle" fill="#2a2a2a">0.8</text>
<rect x="279.78" y="570.10" width="20.76" height="10.07" fill="#f4f9fe"/>
<text x="290.14" y="577.62" font-size="6.9" text-anchor="middle" fill="#2a2a2a">0.9</text>
<rect x="300.49" y="570.10" width="20.76" height="10.07" fill="#ebf3fd"/>
<text x="310.85" y="577.62" font-size="6.9" text-anchor="middle" fill="#2a2a2a">0.8</text>
<rect x="84.20" y="580.12" width="8.90" height="10.07" fill="#d2b48c"/>
<text x="81.20" y="588.17" font-size="7.0" text-anchor="end" textLength="37.30" lengthAdjust="spacingAndGlyphs">ME tan(104)</text>
<rect x="93.40" y="580.12" width="20.76" height="10.07" fill="#ebf3fd"/>
<text x="103.75" y="587.63" font-size="6.9" text-anchor="middle" fill="#2a2a2a">0.8</text>
<rect x="114.11" y="580.12" width="20.76" height="10.07" fill="#ebf3fd"/>
<text x="124.46" y="587.63" font-size="6.9" text-anchor="middle" fill="#2a2a2a">0.8</text>
<rect x="134.82" y="580.12" width="20.76" height="10.07" fill="#e0edfc"/>
<text x="145.17" y="587.63" font-size="6.9" text-anchor="middle" fill="#2a2a2a">0.7</text>
<rect x="155.53" y="580.12" width="20.76" height="10.07" fill="#ebf3fd"/>
<text x="165.88" y="587.63" font-size="6.9" text-anchor="middle" fill="#2a2a2a">0.8</text>
<rect x="176.24" y="580.12" width="20.76" height="10.07" fill="#d7e8fb"/>
<text x="186.59" y="587.63" font-size="6.9" text-anchor="middle" fill="#2a2a2a">0.6</text>
<rect x="196.95" y="580.12" width="20.76" height="10.07" fill="#ebf3fd"/>
<text x="207.30" y="587.63" font-size="6.9" text-anchor="middle" fill="#2a2a2a">0.8</text>
<rect x="217.65" y="580.12" width="20.76" height="10.07" fill="#ef4418"/>
<text x="228.01" y="587.63" font-size="6.9" text-anchor="middle" fill="#2a2a2a">2e−10</text>
<rect x="238.36" y="580.12" width="20.76" height="10.07" fill="#e0edfc"/>
<text x="248.72" y="587.63" font-size="6.9" text-anchor="middle" fill="#2a2a2a">0.7</text>
<rect x="259.07" y="580.12" width="20.76" height="10.07" fill="#f4f9fe"/>
<text x="269.43" y="587.63" font-size="6.9" text-anchor="middle" fill="#2a2a2a">0.9</text>
<rect x="279.78" y="580.12" width="20.76" height="10.07" fill="#ebf3fd"/>
<text x="290.14" y="587.63" font-size="6.9" text-anchor="middle" fill="#2a2a2a">0.8</text>
<rect x="300.49" y="580.12" width="20.76" height="10.07" fill="#e0edfc"/>
<text x="310.85" y="587.63" font-size="6.9" text-anchor="middle" fill="#2a2a2a">0.7</text>
<rect x="84.20" y="590.14" width="8.90" height="10.07" fill="#a020f0"/>
<text x="81.20" y="598.19" font-size="7.0" text-anchor="end" textLength="47.30" lengthAdjust="spacingAndGlyphs">ME purple(148)</text>
<rect x="93.40" y="590.14" width="20.76" height="10.07" fill="#f4f9fe"/>
<text x="103.75" y="597.65" font-size="6.9" text-anchor="middle" fill="#2a2a2a">0.9</text>
<rect x="114.11" y="590.14" width="20.76" height="10.07" fill="#ebf3fd"/>
<text x="124.46" y="597.65" font-size="6.9" text-anchor="middle" fill="#2a2a2a">0.8</text>
<rect x="134.82" y="590.14" width="20.76" height="10.07" fill="#ffffff"/>
<text x="145.17" y="597.65" font-size="6.9" text-anchor="middle" fill="#2a2a2a">1</text>
<rect x="155.53" y="590.14" width="20.76" height="10.07" fill="#ebf3fd"/>
<text x="165.88" y="597.65" font-size="6.9" text-anchor="middle" fill="#2a2a2a">0.8</text>
<rect x="176.24" y="590.14" width="20.76" height="10.07" fill="#cee3fa"/>
<text x="186.59" y="597.65" font-size="6.9" text-anchor="middle" fill="#2a2a2a">0.5</text>
<rect x="196.95" y="590.14" width="20.76" height="10.07" fill="#d7e8fb"/>
<text x="207.30" y="597.65" font-size="6.9" text-anchor="middle" fill="#2a2a2a">0.6</text>
<rect x="217.65" y="590.14" width="20.76" height="10.07" fill="#f4f9fe"/>
<text x="228.01" y="597.65" font-size="6.9" text-anchor="middle" fill="#2a2a2a">0.9</text>
<rect x="238.36" y="590.14" width="20.76" height="10.07" fill="#d7e8fb"/>
<text x="248.72" y="597.65" font-size="6.9" text-anchor="middle" fill="#2a2a2a">0.6</text>
<rect x="259.07" y="590.14" width="20.76" height="10.07" fill="#ebf3fd"/>
<text x="269.43" y="597.65" font-size="6.9" text-anchor="middle" fill="#2a2a2a">0.8</text>
<rect x="279.78" y="590.14" width="20.76" height="10.07" fill="#ffffff"/>
<text x="290.14" y="597.65" font-size="6.9" text-anchor="middle" fill="#2a2a2a">1</text>
<rect x="300.49" y="590.14" width="20.76" height="10.07" fill="#ef4418"/>
<text x="310.85" y="597.65" font-size="6.9" text-anchor="middle" fill="#2a2a2a">2e−07</text>
<rect x="84.20" y="600.16" width="8.90" height="10.07" fill="#40e0d0"/>
<text x="81.20" y="608.21" font-size="7.0" text-anchor="end" textLength="56.50" lengthAdjust="spacingAndGlyphs">ME turquoise(693)</text>
<rect x="93.40" y="600.16" width="20.76" height="10.07" fill="#ffffff"/>
<text x="103.75" y="607.67" font-size="6.9" text-anchor="middle" fill="#2a2a2a">1</text>
<rect x="114.11" y="600.16" width="20.76" height="10.07" fill="#e0edfc"/>
<text x="124.46" y="607.67" font-size="6.9" text-anchor="middle" fill="#2a2a2a">0.7</text>
<rect x="134.82" y="600.16" width="20.76" height="10.07" fill="#f4f9fe"/>
<text x="145.17" y="607.67" font-size="6.9" text-anchor="middle" fill="#2a2a2a">0.9</text>
<rect x="155.53" y="600.16" width="20.76" height="10.07" fill="#bbd8f8"/>
<text x="165.88" y="607.67" font-size="6.9" text-anchor="middle" fill="#2a2a2a">0.4</text>
<rect x="176.24" y="600.16" width="20.76" height="10.07" fill="#a6ccf6"/>
<text x="186.59" y="607.67" font-size="6.9" text-anchor="middle" fill="#2a2a2a">0.2</text>
<rect x="196.95" y="600.16" width="20.76" height="10.07" fill="#9cc6f5"/>
<text x="207.30" y="607.67" font-size="6.9" text-anchor="middle" fill="#2a2a2a">0.1</text>
<rect x="217.65" y="600.16" width="20.76" height="10.07" fill="#f9bdae"/>
<text x="228.01" y="607.67" font-size="6.9" text-anchor="middle" fill="#2a2a2a">0.4</text>
<rect x="238.36" y="600.16" width="20.76" height="10.07" fill="#fbcfc4"/>
<text x="248.72" y="607.67" font-size="6.9" text-anchor="middle" fill="#2a2a2a">0.5</text>
<rect x="259.07" y="600.16" width="20.76" height="10.07" fill="#f4f9fe"/>
<text x="269.43" y="607.67" font-size="6.9" text-anchor="middle" fill="#2a2a2a">0.9</text>
<rect x="279.78" y="600.16" width="20.76" height="10.07" fill="#f9b4a3"/>
<text x="290.14" y="607.67" font-size="6.9" text-anchor="middle" fill="#2a2a2a">0.3</text>
<rect x="300.49" y="600.16" width="20.76" height="10.07" fill="#f6977e"/>
<text x="310.85" y="607.67" font-size="6.9" text-anchor="middle" fill="#2a2a2a">0.09</text>
<rect x="84.20" y="610.18" width="8.90" height="10.07" fill="#000000"/>
<text x="81.20" y="618.23" font-size="7.0" text-anchor="end" textLength="43.70" lengthAdjust="spacingAndGlyphs">ME black(228)</text>
<rect x="93.40" y="610.18" width="20.76" height="10.07" fill="#ebf3fd"/>
<text x="103.75" y="617.70" font-size="6.9" text-anchor="middle" fill="#2a2a2a">0.8</text>
<rect x="114.11" y="610.18" width="20.76" height="10.07" fill="#ef4418"/>
<text x="124.46" y="617.70" font-size="6.9" text-anchor="middle" fill="#2a2a2a">4e−08</text>
<rect x="134.82" y="610.18" width="20.76" height="10.07" fill="#ffffff"/>
<text x="145.17" y="617.70" font-size="6.9" text-anchor="middle" fill="#2a2a2a">1</text>
<rect x="155.53" y="610.18" width="20.76" height="10.07" fill="#ffffff"/>
<text x="165.88" y="617.70" font-size="6.9" text-anchor="middle" fill="#2a2a2a">1</text>
<rect x="176.24" y="610.18" width="20.76" height="10.07" fill="#e0edfc"/>
<text x="186.59" y="617.70" font-size="6.9" text-anchor="middle" fill="#2a2a2a">0.7</text>
<rect x="196.95" y="610.18" width="20.76" height="10.07" fill="#ebf3fd"/>
<text x="207.30" y="617.70" font-size="6.9" text-anchor="middle" fill="#2a2a2a">0.8</text>
<rect x="217.65" y="610.18" width="20.76" height="10.07" fill="#e0edfc"/>
<text x="228.01" y="617.70" font-size="6.9" text-anchor="middle" fill="#2a2a2a">0.7</text>
<rect x="238.36" y="610.18" width="20.76" height="10.07" fill="#d7e8fb"/>
<text x="248.72" y="617.70" font-size="6.9" text-anchor="middle" fill="#2a2a2a">0.6</text>
<rect x="259.07" y="610.18" width="20.76" height="10.07" fill="#f4f9fe"/>
<text x="269.43" y="617.70" font-size="6.9" text-anchor="middle" fill="#2a2a2a">0.9</text>
<rect x="279.78" y="610.18" width="20.76" height="10.07" fill="#e0edfc"/>
<text x="290.14" y="617.70" font-size="6.9" text-anchor="middle" fill="#2a2a2a">0.7</text>
<rect x="300.49" y="610.18" width="20.76" height="10.07" fill="#d7e8fb"/>
<text x="310.85" y="617.70" font-size="6.9" text-anchor="middle" fill="#2a2a2a">0.6</text>
<rect x="84.20" y="620.20" width="8.90" height="10.07" fill="#ffff00"/>
<text x="81.20" y="628.25" font-size="7.0" text-anchor="end" textLength="47.30" lengthAdjust="spacingAndGlyphs">ME yellow(288)</text>
<rect x="93.40" y="620.20" width="20.76" height="10.07" fill="#f4f9fe"/>
<text x="103.75" y="627.72" font-size="6.9" text-anchor="middle" fill="#2a2a2a">0.9</text>
<rect x="114.11" y="620.20" width="20.76" height="10.07" fill="#ffffff"/>
<text x="124.46" y="627.72" font-size="6.9" text-anchor="middle" fill="#2a2a2a">1</text>
<rect x="134.82" y="620.20" width="20.76" height="10.07" fill="#ef4418"/>
<text x="145.17" y="627.72" font-size="6.9" text-anchor="middle" fill="#2a2a2a">2e−07</text>
<rect x="155.53" y="620.20" width="20.76" height="10.07" fill="#f4f9fe"/>
<text x="165.88" y="627.72" font-size="6.9" text-anchor="middle" fill="#2a2a2a">0.9</text>
<rect x="176.24" y="620.20" width="20.76" height="10.07" fill="#cee3fa"/>
<text x="186.59" y="627.72" font-size="6.9" text-anchor="middle" fill="#2a2a2a">0.5</text>
<rect x="196.95" y="620.20" width="20.76" height="10.07" fill="#d7e8fb"/>
<text x="207.30" y="627.72" font-size="6.9" text-anchor="middle" fill="#2a2a2a">0.6</text>
<rect x="217.65" y="620.20" width="20.76" height="10.07" fill="#e0edfc"/>
<text x="228.01" y="627.72" font-size="6.9" text-anchor="middle" fill="#2a2a2a">0.7</text>
<rect x="238.36" y="620.20" width="20.76" height="10.07" fill="#ebf3fd"/>
<text x="248.72" y="627.72" font-size="6.9" text-anchor="middle" fill="#2a2a2a">0.8</text>
<rect x="259.07" y="620.20" width="20.76" height="10.07" fill="#ebf3fd"/>
<text x="269.43" y="627.72" font-size="6.9" text-anchor="middle" fill="#2a2a2a">0.8</text>
<rect x="279.78" y="620.20" width="20.76" height="10.07" fill="#ebf3fd"/>
<text x="290.14" y="627.72" font-size="6.9" text-anchor="middle" fill="#2a2a2a">0.8</text>
<rect x="300.49" y="620.20" width="20.76" height="10.07" fill="#d7e8fb"/>
<text x="310.85" y="627.72" font-size="6.9" text-anchor="middle" fill="#2a2a2a">0.6</text>
<rect x="84.20" y="630.22" width="8.90" height="10.07" fill="#a52a2a"/>
<text x="81.20" y="638.27" font-size="7.0" text-anchor="end" textLength="47.30" lengthAdjust="spacingAndGlyphs">ME brown(288)</text>
<rect x="93.40" y="630.22" width="20.76" height="10.07" fill="#ef4418"/>
<text x="103.75" y="637.74" font-size="6.9" text-anchor="middle" fill="#2a2a2a">2e−10</text>
<rect x="114.11" y="630.22" width="20.76" height="10.07" fill="#f4f9fe"/>
<text x="124.46" y="637.74" font-size="6.9" text-anchor="middle" fill="#2a2a2a">0.9</text>
<rect x="134.82" y="630.22" width="20.76" height="10.07" fill="#ebf3fd"/>
<text x="145.17" y="637.74" font-size="6.9" text-anchor="middle" fill="#2a2a2a">0.8</text>
<rect x="155.53" y="630.22" width="20.76" height="10.07" fill="#ebf3fd"/>
<text x="165.88" y="637.74" font-size="6.9" text-anchor="middle" fill="#2a2a2a">0.8</text>
<rect x="176.24" y="630.22" width="20.76" height="10.07" fill="#e0edfc"/>
<text x="186.59" y="637.74" font-size="6.9" text-anchor="middle" fill="#2a2a2a">0.7</text>
<rect x="196.95" y="630.22" width="20.76" height="10.07" fill="#ebf3fd"/>
<text x="207.30" y="637.74" font-size="6.9" text-anchor="middle" fill="#2a2a2a">0.8</text>
<rect x="217.65" y="630.22" width="20.76" height="10.07" fill="#e0edfc"/>
<text x="228.01" y="637.74" font-size="6.9" text-anchor="middle" fill="#2a2a2a">0.7</text>
<rect x="238.36" y="630.22" width="20.76" height="10.07" fill="#e0edfc"/>
<text x="248.72" y="637.74" font-size="6.9" text-anchor="middle" fill="#2a2a2a">0.7</text>
<rect x="259.07" y="630.22" width="20.76" height="10.07" fill="#ebf3fd"/>
<text x="269.43" y="637.74" font-size="6.9" text-anchor="middle" fill="#2a2a2a">0.8</text>
<rect x="279.78" y="630.22" width="20.76" height="10.07" fill="#ebf3fd"/>
<text x="290.14" y="637.74" font-size="6.9" text-anchor="middle" fill="#2a2a2a">0.8</text>
<rect x="300.49" y="630.22" width="20.76" height="10.07" fill="#e0edfc"/>
<text x="310.85" y="637.74" font-size="6.9" text-anchor="middle" fill="#2a2a2a">0.7</text>
<rect x="84.20" y="640.24" width="8.90" height="10.07" fill="#00ff00"/>
<text x="81.20" y="648.29" font-size="7.0" text-anchor="end" textLength="45.70" lengthAdjust="spacingAndGlyphs">ME green(269)</text>
<rect x="93.40" y="640.24" width="20.76" height="10.07" fill="#f5896e"/>
<text x="103.75" y="647.75" font-size="6.9" text-anchor="middle" fill="#2a2a2a">0.04</text>
<rect x="114.11" y="640.24" width="20.76" height="10.07" fill="#f7a08a"/>
<text x="124.46" y="647.75" font-size="6.9" text-anchor="middle" fill="#2a2a2a">0.1</text>
<rect x="134.82" y="640.24" width="20.76" height="10.07" fill="#f9b4a3"/>
<text x="145.17" y="647.75" font-size="6.9" text-anchor="middle" fill="#2a2a2a">0.3</text>
<rect x="155.53" y="640.24" width="20.76" height="10.07" fill="#ffffff"/>
<text x="165.88" y="647.75" font-size="6.9" text-anchor="middle" fill="#2a2a2a">1</text>
<rect x="176.24" y="640.24" width="20.76" height="10.07" fill="#cee3fa"/>
<text x="186.59" y="647.75" font-size="6.9" text-anchor="middle" fill="#2a2a2a">0.5</text>
<rect x="196.95" y="640.24" width="20.76" height="10.07" fill="#bbd8f8"/>
<text x="207.30" y="647.75" font-size="6.9" text-anchor="middle" fill="#2a2a2a">0.4</text>
<rect x="217.65" y="640.24" width="20.76" height="10.07" fill="#d7e8fb"/>
<text x="228.01" y="647.75" font-size="6.9" text-anchor="middle" fill="#2a2a2a">0.6</text>
<rect x="238.36" y="640.24" width="20.76" height="10.07" fill="#d7e8fb"/>
<text x="248.72" y="647.75" font-size="6.9" text-anchor="middle" fill="#2a2a2a">0.6</text>
<rect x="259.07" y="640.24" width="20.76" height="10.07" fill="#e0edfc"/>
<text x="269.43" y="647.75" font-size="6.9" text-anchor="middle" fill="#2a2a2a">0.7</text>
<rect x="279.78" y="640.24" width="20.76" height="10.07" fill="#e0edfc"/>
<text x="290.14" y="647.75" font-size="6.9" text-anchor="middle" fill="#2a2a2a">0.7</text>
<rect x="300.49" y="640.24" width="20.76" height="10.07" fill="#bbd8f8"/>
<text x="310.85" y="647.75" font-size="6.9" text-anchor="middle" fill="#2a2a2a">0.4</text>
<rect x="84.20" y="650.26" width="8.90" height="10.07" fill="#adff2f"/>
<text x="81.20" y="658.31" font-size="7.0" text-anchor="end" textLength="67.30" lengthAdjust="spacingAndGlyphs">ME green-yellow(116)</text>
<rect x="93.40" y="650.26" width="20.76" height="10.07" fill="#f4f9fe"/>
<text x="103.75" y="657.77" font-size="6.9" text-anchor="middle" fill="#2a2a2a">0.9</text>
<rect x="114.11" y="650.26" width="20.76" height="10.07" fill="#f4f9fe"/>
<text x="124.46" y="657.77" font-size="6.9" text-anchor="middle" fill="#2a2a2a">0.9</text>
<rect x="134.82" y="650.26" width="20.76" height="10.07" fill="#f4f9fe"/>
<text x="145.17" y="657.77" font-size="6.9" text-anchor="middle" fill="#2a2a2a">0.9</text>
<rect x="155.53" y="650.26" width="20.76" height="10.07" fill="#ef4418"/>
<text x="165.88" y="657.77" font-size="6.9" text-anchor="middle" fill="#2a2a2a">5e−08</text>
<rect x="176.24" y="650.26" width="20.76" height="10.07" fill="#d7e8fb"/>
<text x="186.59" y="657.77" font-size="6.9" text-anchor="middle" fill="#2a2a2a">0.6</text>
<rect x="196.95" y="650.26" width="20.76" height="10.07" fill="#ebf3fd"/>
<text x="207.30" y="657.77" font-size="6.9" text-anchor="middle" fill="#2a2a2a">0.8</text>
<rect x="217.65" y="650.26" width="20.76" height="10.07" fill="#e0edfc"/>
<text x="228.01" y="657.77" font-size="6.9" text-anchor="middle" fill="#2a2a2a">0.7</text>
<rect x="238.36" y="650.26" width="20.76" height="10.07" fill="#ebf3fd"/>
<text x="248.72" y="657.77" font-size="6.9" text-anchor="middle" fill="#2a2a2a">0.8</text>
<rect x="259.07" y="650.26" width="20.76" height="10.07" fill="#ffffff"/>
<text x="269.43" y="657.77" font-size="6.9" text-anchor="middle" fill="#2a2a2a">1</text>
<rect x="279.78" y="650.26" width="20.76" height="10.07" fill="#e0edfc"/>
<text x="290.14" y="657.77" font-size="6.9" text-anchor="middle" fill="#2a2a2a">0.7</text>
<rect x="300.49" y="650.26" width="20.76" height="10.07" fill="#d7e8fb"/>
<text x="310.85" y="657.77" font-size="6.9" text-anchor="middle" fill="#2a2a2a">0.6</text>
<rect x="84.20" y="660.28" width="8.90" height="10.07" fill="#ffc0cb"/>
<text x="81.20" y="668.33" font-size="7.0" text-anchor="end" textLength="40.60" lengthAdjust="spacingAndGlyphs">ME pink(217)</text>
<rect x="93.40" y="660.28" width="20.76" height="10.07" fill="#ffffff"/>
<text x="103.75" y="667.79" font-size="6.9" text-anchor="middle" fill="#2a2a2a">1</text>
<rect x="114.11" y="660.28" width="20.76" height="10.07" fill="#ebf3fd"/>
<text x="124.46" y="667.79" font-size="6.9" text-anchor="middle" fill="#2a2a2a">0.8</text>
<rect x="134.82" y="660.28" width="20.76" height="10.07" fill="#f4f9fe"/>
<text x="145.17" y="667.79" font-size="6.9" text-anchor="middle" fill="#2a2a2a">0.9</text>
<rect x="155.53" y="660.28" width="20.76" height="10.07" fill="#ffffff"/>
<text x="165.88" y="667.79" font-size="6.9" text-anchor="middle" fill="#2a2a2a">1</text>
<rect x="176.24" y="660.28" width="20.76" height="10.07" fill="#ebf3fd"/>
<text x="186.59" y="667.79" font-size="6.9" text-anchor="middle" fill="#2a2a2a">0.8</text>
<rect x="196.95" y="660.28" width="20.76" height="10.07" fill="#ebf3fd"/>
<text x="207.30" y="667.79" font-size="6.9" text-anchor="middle" fill="#2a2a2a">0.8</text>
<rect x="217.65" y="660.28" width="20.76" height="10.07" fill="#d7e8fb"/>
<text x="228.01" y="667.79" font-size="6.9" text-anchor="middle" fill="#2a2a2a">0.6</text>
<rect x="238.36" y="660.28" width="20.76" height="10.07" fill="#ebf3fd"/>
<text x="248.72" y="667.79" font-size="6.9" text-anchor="middle" fill="#2a2a2a">0.8</text>
<rect x="259.07" y="660.28" width="20.76" height="10.07" fill="#ef4418"/>
<text x="269.43" y="667.79" font-size="6.9" text-anchor="middle" fill="#2a2a2a">1e−07</text>
<rect x="279.78" y="660.28" width="20.76" height="10.07" fill="#e0edfc"/>
<text x="290.14" y="667.79" font-size="6.9" text-anchor="middle" fill="#2a2a2a">0.7</text>
<rect x="300.49" y="660.28" width="20.76" height="10.07" fill="#cee3fa"/>
<text x="310.85" y="667.79" font-size="6.9" text-anchor="middle" fill="#2a2a2a">0.5</text>
<rect x="84.20" y="670.30" width="8.90" height="10.07" fill="#0000ff"/>
<text x="81.20" y="678.35" font-size="7.0" text-anchor="end" textLength="41.60" lengthAdjust="spacingAndGlyphs">ME blue(339)</text>
<rect x="93.40" y="670.30" width="20.76" height="10.07" fill="#f4f9fe"/>
<text x="103.75" y="677.81" font-size="6.9" text-anchor="middle" fill="#2a2a2a">0.9</text>
<rect x="114.11" y="670.30" width="20.76" height="10.07" fill="#ebf3fd"/>
<text x="124.46" y="677.81" font-size="6.9" text-anchor="middle" fill="#2a2a2a">0.8</text>
<rect x="134.82" y="670.30" width="20.76" height="10.07" fill="#ebf3fd"/>
<text x="145.17" y="677.81" font-size="6.9" text-anchor="middle" fill="#2a2a2a">0.8</text>
<rect x="155.53" y="670.30" width="20.76" height="10.07" fill="#f4f9fe"/>
<text x="165.88" y="677.81" font-size="6.9" text-anchor="middle" fill="#2a2a2a">0.9</text>
<rect x="176.24" y="670.30" width="20.76" height="10.07" fill="#ef4418"/>
<text x="186.59" y="677.81" font-size="6.9" text-anchor="middle" fill="#2a2a2a">1e−08</text>
<rect x="196.95" y="670.30" width="20.76" height="10.07" fill="#f4f9fe"/>
<text x="207.30" y="677.81" font-size="6.9" text-anchor="middle" fill="#2a2a2a">0.9</text>
<rect x="217.65" y="670.30" width="20.76" height="10.07" fill="#e0edfc"/>
<text x="228.01" y="677.81" font-size="6.9" text-anchor="middle" fill="#2a2a2a">0.7</text>
<rect x="238.36" y="670.30" width="20.76" height="10.07" fill="#ebf3fd"/>
<text x="248.72" y="677.81" font-size="6.9" text-anchor="middle" fill="#2a2a2a">0.8</text>
<rect x="259.07" y="670.30" width="20.76" height="10.07" fill="#ebf3fd"/>
<text x="269.43" y="677.81" font-size="6.9" text-anchor="middle" fill="#2a2a2a">0.8</text>
<rect x="279.78" y="670.30" width="20.76" height="10.07" fill="#e0edfc"/>
<text x="290.14" y="677.81" font-size="6.9" text-anchor="middle" fill="#2a2a2a">0.7</text>
<rect x="300.49" y="670.30" width="20.76" height="10.07" fill="#cee3fa"/>
<text x="310.85" y="677.81" font-size="6.9" text-anchor="middle" fill="#2a2a2a">0.5</text>
<rect x="84.20" y="680.32" width="8.90" height="10.07" fill="#ff00ff"/>
<text x="81.20" y="688.37" font-size="7.0" text-anchor="end" textLength="54.90" lengthAdjust="spacingAndGlyphs">ME magenta(196)</text>
<rect x="93.40" y="680.32" width="20.76" height="10.07" fill="#ebf3fd"/>
<text x="103.75" y="687.84" font-size="6.9" text-anchor="middle" fill="#2a2a2a">0.8</text>
<rect x="114.11" y="680.32" width="20.76" height="10.07" fill="#f4f9fe"/>
<text x="124.46" y="687.84" font-size="6.9" text-anchor="middle" fill="#2a2a2a">0.9</text>
<rect x="134.82" y="680.32" width="20.76" height="10.07" fill="#e0edfc"/>
<text x="145.17" y="687.84" font-size="6.9" text-anchor="middle" fill="#2a2a2a">0.7</text>
<rect x="155.53" y="680.32" width="20.76" height="10.07" fill="#f4f9fe"/>
<text x="165.88" y="687.84" font-size="6.9" text-anchor="middle" fill="#2a2a2a">0.9</text>
<rect x="176.24" y="680.32" width="20.76" height="10.07" fill="#ebf3fd"/>
<text x="186.59" y="687.84" font-size="6.9" text-anchor="middle" fill="#2a2a2a">0.8</text>
<rect x="196.95" y="680.32" width="20.76" height="10.07" fill="#ef4418"/>
<text x="207.30" y="687.84" font-size="6.9" text-anchor="middle" fill="#2a2a2a">1e−07</text>
<rect x="217.65" y="680.32" width="20.76" height="10.07" fill="#ffffff"/>
<text x="228.01" y="687.84" font-size="6.9" text-anchor="middle" fill="#2a2a2a">1</text>
<rect x="238.36" y="680.32" width="20.76" height="10.07" fill="#ebf3fd"/>
<text x="248.72" y="687.84" font-size="6.9" text-anchor="middle" fill="#2a2a2a">0.8</text>
<rect x="259.07" y="680.32" width="20.76" height="10.07" fill="#e0edfc"/>
<text x="269.43" y="687.84" font-size="6.9" text-anchor="middle" fill="#2a2a2a">0.7</text>
<rect x="279.78" y="680.32" width="20.76" height="10.07" fill="#e0edfc"/>
<text x="290.14" y="687.84" font-size="6.9" text-anchor="middle" fill="#2a2a2a">0.7</text>
<rect x="300.49" y="680.32" width="20.76" height="10.07" fill="#cee3fa"/>
<text x="310.85" y="687.84" font-size="6.9" text-anchor="middle" fill="#2a2a2a">0.5</text>
<rect x="84.20" y="690.34" width="8.90" height="10.07" fill="#bebebe"/>
<text x="81.20" y="698.39" font-size="7.0" text-anchor="end" textLength="37.30" lengthAdjust="spacingAndGlyphs">ME grey(15)</text>
<rect x="93.40" y="690.34" width="20.76" height="10.07" fill="#fef5f2"/>
<text x="103.75" y="697.86" font-size="6.9" text-anchor="middle" fill="#2a2a2a">0.9</text>
<rect x="114.11" y="690.34" width="20.76" height="10.07" fill="#f4f9fe"/>
<text x="124.46" y="697.86" font-size="6.9" text-anchor="middle" fill="#2a2a2a">0.9</text>
<rect x="134.82" y="690.34" width="20.76" height="10.07" fill="#f4f9fe"/>
<text x="145.17" y="697.86" font-size="6.9" text-anchor="middle" fill="#2a2a2a">0.9</text>
<rect x="155.53" y="690.34" width="20.76" height="10.07" fill="#e0edfc"/>
<text x="165.88" y="697.86" font-size="6.9" text-anchor="middle" fill="#2a2a2a">0.7</text>
<rect x="176.24" y="690.34" width="20.76" height="10.07" fill="#e0edfc"/>
<text x="186.59" y="697.86" font-size="6.9" text-anchor="middle" fill="#2a2a2a">0.7</text>
<rect x="196.95" y="690.34" width="20.76" height="10.07" fill="#e0edfc"/>
<text x="207.30" y="697.86" font-size="6.9" text-anchor="middle" fill="#2a2a2a">0.7</text>
<rect x="217.65" y="690.34" width="20.76" height="10.07" fill="#f4f9fe"/>
<text x="228.01" y="697.86" font-size="6.9" text-anchor="middle" fill="#2a2a2a">0.9</text>
<rect x="238.36" y="690.34" width="20.76" height="10.07" fill="#d7e8fb"/>
<text x="248.72" y="697.86" font-size="6.9" text-anchor="middle" fill="#2a2a2a">0.6</text>
<rect x="259.07" y="690.34" width="20.76" height="10.07" fill="#f4f9fe"/>
<text x="269.43" y="697.86" font-size="6.9" text-anchor="middle" fill="#2a2a2a">0.9</text>
<rect x="279.78" y="690.34" width="20.76" height="10.07" fill="#ef4418"/>
<text x="290.14" y="697.86" font-size="6.9" text-anchor="middle" fill="#2a2a2a">3e−07</text>
<rect x="300.49" y="690.34" width="20.76" height="10.07" fill="#cee3fa"/>
<text x="310.85" y="697.86" font-size="6.9" text-anchor="middle" fill="#2a2a2a">0.5</text>
<path d="M93.40,570.10 H321.20 V700.36 H93.40" fill="none" stroke="#444" stroke-width="1.1"/>
<text transform="translate(106.15 704.80) rotate(-55)" font-size="7.0" text-anchor="end" dominant-baseline="central">LT-HSC</text>
<text transform="translate(126.86 704.80) rotate(-55)" font-size="7.0" text-anchor="end" dominant-baseline="central">ST-HSC</text>
<text transform="translate(147.57 704.80) rotate(-55)" font-size="7.0" text-anchor="end" dominant-baseline="central">MPP</text>
<text transform="translate(168.28 704.80) rotate(-55)" font-size="7.0" text-anchor="end" dominant-baseline="central">CMP</text>
<text transform="translate(188.99 704.80) rotate(-55)" font-size="7.0" text-anchor="end" dominant-baseline="central">MEP</text>
<text transform="translate(209.70 704.80) rotate(-55)" font-size="7.0" text-anchor="end" dominant-baseline="central">GMP</text>
<text transform="translate(230.41 704.80) rotate(-55)" font-size="7.0" text-anchor="end" dominant-baseline="central">MK</text>
<text transform="translate(251.12 704.80) rotate(-55)" font-size="7.0" text-anchor="end" dominant-baseline="central">Ery-A</text>
<text transform="translate(271.83 704.80) rotate(-55)" font-size="7.0" text-anchor="end" dominant-baseline="central">Monocyte</text>
<text transform="translate(292.54 704.80) rotate(-55)" font-size="7.0" text-anchor="end" dominant-baseline="central">Macrophage</text>
<text transform="translate(313.25 704.80) rotate(-55)" font-size="7.0" text-anchor="end" dominant-baseline="central">Granulocyte</text>
<rect x="323.60" y="578.10" width="4.60" height="114.80" fill="url(#gHeat)" stroke="#222" stroke-width="0.8"/>
<line x1="328.20" y1="578.10" x2="330.20" y2="578.10" stroke="#231f20" stroke-width="0.8"/>
<text x="331.00" y="580.38" font-size="6.5">1</text>
<line x1="328.20" y1="606.80" x2="330.20" y2="606.80" stroke="#231f20" stroke-width="0.8"/>
<text x="331.00" y="609.07" font-size="6.5">0.5</text>
<line x1="328.20" y1="635.50" x2="330.20" y2="635.50" stroke="#231f20" stroke-width="0.8"/>
<text x="331.00" y="637.77" font-size="6.5">0</text>
<line x1="328.20" y1="664.20" x2="330.20" y2="664.20" stroke="#231f20" stroke-width="0.8"/>
<text x="331.00" y="666.48" font-size="6.5">−0.5</text>
<line x1="328.20" y1="692.90" x2="330.20" y2="692.90" stroke="#231f20" stroke-width="0.8"/>
<text x="331.00" y="695.17" font-size="6.5">−1</text>
<rect x="0.5" y="0.5" width="519" height="744" fill="none" stroke="#000" stroke-width="1.2"/>
</svg>
</body></html>
